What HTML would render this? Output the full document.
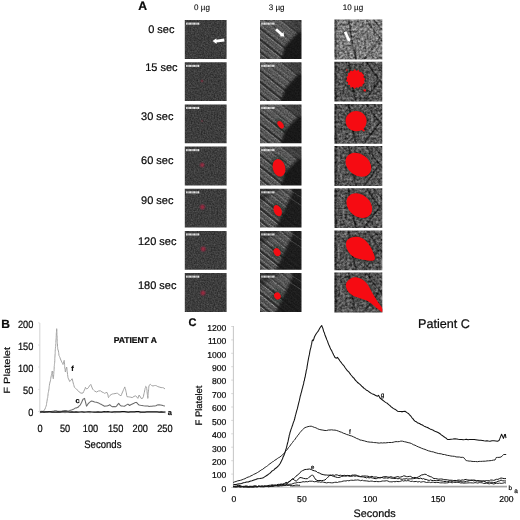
<!DOCTYPE html>
<html><head><meta charset="utf-8"><title>Figure</title>
<style>
html,body{margin:0;padding:0;background:#fff;}
body{width:520px;height:520px;overflow:hidden;font-family:"Liberation Sans",sans-serif;}
svg{display:block;position:absolute;left:0;top:0;}
text{font-family:"Liberation Sans",sans-serif;fill:#0a0a0a;text-rendering:geometricPrecision;stroke:#0a0a0a;stroke-width:0.22px;}
.b{font-weight:bold;}
</style></head><body>
<svg width="520" height="520" viewBox="0 0 520 520">
<defs>
<filter id="g1" x="0" y="0" width="1" height="1" color-interpolation-filters="sRGB">
  <feTurbulence type="fractalNoise" baseFrequency="0.7" numOctaves="2" seed="3"/>
  <feColorMatrix type="matrix" values="1 0 0 0 0  1 0 0 0 0  1 0 0 0 0  0 0 0 0 1" result="n"/>
  <feComposite in="SourceGraphic" in2="n" operator="arithmetic" k1="0" k2="1" k3="0.26" k4="-0.13"/>
  <feGaussianBlur stdDeviation="0.35"/>
</filter>
<filter id="g2" x="0" y="0" width="1" height="1" color-interpolation-filters="sRGB">
  <feTurbulence type="fractalNoise" baseFrequency="0.7" numOctaves="2" seed="7"/>
  <feColorMatrix type="matrix" values="1 0 0 0 0  1 0 0 0 0  1 0 0 0 0  0 0 0 0 1" result="n"/>
  <feComposite in="SourceGraphic" in2="n" operator="arithmetic" k1="0.9" k2="0.55" k3="0.0" k4="0"/>
  <feGaussianBlur stdDeviation="0.35"/>
</filter>
<filter id="g3" x="0" y="0" width="1" height="1" color-interpolation-filters="sRGB">
  <feTurbulence type="fractalNoise" baseFrequency="0.42" numOctaves="2" seed="11"/>
  <feColorMatrix type="matrix" values="1 0 0 0 0  1 0 0 0 0  1 0 0 0 0  0 0 0 0 1" result="n"/>
  <feComposite in="SourceGraphic" in2="n" operator="arithmetic" k1="1.0" k2="0.5" k3="0.32" k4="-0.16"/>
  <feGaussianBlur stdDeviation="0.55"/>
</filter>
<radialGradient id="rg"><stop offset="0" stop-color="#d02040" stop-opacity="1"/><stop offset="0.45" stop-color="#b02040" stop-opacity="0.7"/><stop offset="1" stop-color="#802040" stop-opacity="0"/></radialGradient>
<filter id="bl"><feGaussianBlur stdDeviation="0.5"/></filter>
<filter id="bl2"><feGaussianBlur stdDeviation="1.6"/></filter>
<filter id="bl6"><feGaussianBlur stdDeviation="0.7"/></filter>
<filter id="bl3"><feGaussianBlur stdDeviation="0.3"/></filter>
<filter id="bl4"><feGaussianBlur stdDeviation="0.9"/></filter>
<filter id="bl5"><feGaussianBlur stdDeviation="0.8"/></filter>

<clipPath id="c00"><rect x="184.8" y="20.1" width="41.8" height="38.8"/></clipPath>
<clipPath id="c01"><rect x="184.8" y="62.3" width="41.8" height="38.8"/></clipPath>
<clipPath id="c02"><rect x="184.8" y="104.4" width="41.8" height="38.8"/></clipPath>
<clipPath id="c03"><rect x="184.8" y="146.6" width="41.8" height="38.8"/></clipPath>
<clipPath id="c04"><rect x="184.8" y="188.8" width="41.8" height="38.8"/></clipPath>
<clipPath id="c05"><rect x="184.8" y="230.9" width="41.8" height="38.8"/></clipPath>
<clipPath id="c06"><rect x="184.8" y="273.1" width="41.8" height="38.8"/></clipPath>
<clipPath id="c10"><rect x="260.0" y="20.1" width="41.5" height="38.8"/></clipPath>
<clipPath id="c11"><rect x="260.0" y="62.3" width="41.5" height="38.8"/></clipPath>
<clipPath id="c12"><rect x="260.0" y="104.4" width="41.5" height="38.8"/></clipPath>
<clipPath id="c13"><rect x="260.0" y="146.6" width="41.5" height="38.8"/></clipPath>
<clipPath id="c14"><rect x="260.0" y="188.8" width="41.5" height="38.8"/></clipPath>
<clipPath id="c15"><rect x="260.0" y="230.9" width="41.5" height="38.8"/></clipPath>
<clipPath id="c16"><rect x="260.0" y="273.1" width="41.5" height="38.8"/></clipPath>
<clipPath id="c20"><rect x="334.29999999999995" y="19.6" width="48.0" height="39.8"/></clipPath>
<clipPath id="c21"><rect x="334.29999999999995" y="61.8" width="48.0" height="39.8"/></clipPath>
<clipPath id="c22"><rect x="334.29999999999995" y="103.9" width="48.0" height="39.8"/></clipPath>
<clipPath id="c23"><rect x="334.29999999999995" y="146.1" width="48.0" height="39.8"/></clipPath>
<clipPath id="c24"><rect x="334.29999999999995" y="188.3" width="48.0" height="39.8"/></clipPath>
<clipPath id="c25"><rect x="334.29999999999995" y="230.4" width="48.0" height="39.8"/></clipPath>
<clipPath id="c26"><rect x="334.29999999999995" y="272.6" width="48.0" height="39.8"/></clipPath>
</defs>
<rect width="520" height="520" fill="#fff"/>
<g opacity="0.999">
<text class="b" x="142.7" y="9.7" font-size="12.2" text-anchor="middle">A</text>
<text x="202" y="9.9" font-size="8.05" text-anchor="middle" style="stroke-width:0.1px">0 µg</text>
<text x="276.6" y="9.9" font-size="8.05" text-anchor="middle" style="stroke-width:0.1px">3 µg</text>
<text x="353" y="9.9" font-size="8.05" text-anchor="middle" style="stroke-width:0.1px">10 µg</text>
<text x="161.3" y="33.3" font-size="11" text-anchor="middle">0 sec</text>
<text x="161.4" y="71.3" font-size="11" text-anchor="middle">15 sec</text>
<text x="157.3" y="120.0" font-size="11" text-anchor="middle">30 sec</text>
<text x="157.3" y="163.6" font-size="11" text-anchor="middle">60 sec</text>
<text x="157.3" y="203.8" font-size="11" text-anchor="middle">90 sec</text>
<text x="157.2" y="245.3" font-size="11" text-anchor="middle">120 sec</text>
<text x="157.2" y="288.7" font-size="11" text-anchor="middle">180 sec</text>
<g clip-path="url(#c00)"><g filter="url(#g1)">
<rect x="183.8" y="19.1" width="43.8" height="40.8" fill="#3d3d3d"/>
</g>
<g fill="#f4f4f4" opacity="0.92"><rect x="186.10" y="22.60" width="1.40" height="2.1"/><rect x="187.72" y="22.60" width="0.60" height="2.1"/><rect x="188.54" y="22.60" width="1.30" height="2.1"/><rect x="190.06" y="22.60" width="1.30" height="2.1"/><rect x="191.58" y="22.60" width="0.60" height="2.1"/><rect x="192.40" y="22.60" width="1.40" height="2.1"/><rect x="194.02" y="22.60" width="1.30" height="2.1"/><rect x="195.54" y="22.60" width="0.60" height="2.1"/><rect x="196.36" y="22.60" width="1.30" height="2.1"/><rect x="197.88" y="22.60" width="1.40" height="2.1"/></g>
</g>
<g clip-path="url(#c01)"><g filter="url(#g1)">
<rect x="183.8" y="61.3" width="43.8" height="40.8" fill="#3d3d3d"/>
</g>
<circle cx="202" cy="81" r="2.1" fill="url(#rg)" opacity="0.45"/>
<g fill="#f4f4f4" opacity="0.92"><rect x="186.10" y="64.80" width="1.40" height="2.1"/><rect x="187.72" y="64.80" width="0.60" height="2.1"/><rect x="188.54" y="64.80" width="1.30" height="2.1"/><rect x="190.06" y="64.80" width="1.30" height="2.1"/><rect x="191.58" y="64.80" width="0.60" height="2.1"/><rect x="192.40" y="64.80" width="1.40" height="2.1"/><rect x="194.02" y="64.80" width="1.30" height="2.1"/><rect x="195.54" y="64.80" width="0.60" height="2.1"/><rect x="196.36" y="64.80" width="1.30" height="2.1"/><rect x="197.88" y="64.80" width="1.40" height="2.1"/></g>
</g>
<g clip-path="url(#c02)"><g filter="url(#g1)">
<rect x="183.8" y="103.4" width="43.8" height="40.8" fill="#3d3d3d"/>
</g>
<circle cx="202" cy="121" r="1.9" fill="url(#rg)" opacity="0.25"/>
<g fill="#f4f4f4" opacity="0.92"><rect x="186.10" y="106.90" width="1.40" height="2.1"/><rect x="187.72" y="106.90" width="0.60" height="2.1"/><rect x="188.54" y="106.90" width="1.30" height="2.1"/><rect x="190.06" y="106.90" width="1.30" height="2.1"/><rect x="191.58" y="106.90" width="0.60" height="2.1"/><rect x="192.40" y="106.90" width="1.40" height="2.1"/><rect x="194.02" y="106.90" width="1.30" height="2.1"/><rect x="195.54" y="106.90" width="0.60" height="2.1"/><rect x="196.36" y="106.90" width="1.30" height="2.1"/><rect x="197.88" y="106.90" width="1.40" height="2.1"/></g>
</g>
<g clip-path="url(#c03)"><g filter="url(#g1)">
<rect x="183.8" y="145.6" width="43.8" height="40.8" fill="#3d3d3d"/>
</g>
<circle cx="202.2" cy="165" r="3.5" fill="url(#rg)" opacity="0.7"/>
<g fill="#f4f4f4" opacity="0.92"><rect x="186.10" y="149.10" width="1.40" height="2.1"/><rect x="187.72" y="149.10" width="0.60" height="2.1"/><rect x="188.54" y="149.10" width="1.30" height="2.1"/><rect x="190.06" y="149.10" width="1.30" height="2.1"/><rect x="191.58" y="149.10" width="0.60" height="2.1"/><rect x="192.40" y="149.10" width="1.40" height="2.1"/><rect x="194.02" y="149.10" width="1.30" height="2.1"/><rect x="195.54" y="149.10" width="0.60" height="2.1"/><rect x="196.36" y="149.10" width="1.30" height="2.1"/><rect x="197.88" y="149.10" width="1.40" height="2.1"/></g>
</g>
<g clip-path="url(#c04)"><g filter="url(#g1)">
<rect x="183.8" y="187.8" width="43.8" height="40.8" fill="#3d3d3d"/>
</g>
<circle cx="202.4" cy="207" r="3.8" fill="url(#rg)" opacity="0.75"/>
<g fill="#f4f4f4" opacity="0.92"><rect x="186.10" y="191.30" width="1.40" height="2.1"/><rect x="187.72" y="191.30" width="0.60" height="2.1"/><rect x="188.54" y="191.30" width="1.30" height="2.1"/><rect x="190.06" y="191.30" width="1.30" height="2.1"/><rect x="191.58" y="191.30" width="0.60" height="2.1"/><rect x="192.40" y="191.30" width="1.40" height="2.1"/><rect x="194.02" y="191.30" width="1.30" height="2.1"/><rect x="195.54" y="191.30" width="0.60" height="2.1"/><rect x="196.36" y="191.30" width="1.30" height="2.1"/><rect x="197.88" y="191.30" width="1.40" height="2.1"/></g>
</g>
<g clip-path="url(#c05)"><g filter="url(#g1)">
<rect x="183.8" y="229.9" width="43.8" height="40.8" fill="#3d3d3d"/>
</g>
<circle cx="203.2" cy="249" r="3.8" fill="url(#rg)" opacity="0.75"/>
<g fill="#f4f4f4" opacity="0.92"><rect x="186.10" y="233.40" width="1.40" height="2.1"/><rect x="187.72" y="233.40" width="0.60" height="2.1"/><rect x="188.54" y="233.40" width="1.30" height="2.1"/><rect x="190.06" y="233.40" width="1.30" height="2.1"/><rect x="191.58" y="233.40" width="0.60" height="2.1"/><rect x="192.40" y="233.40" width="1.40" height="2.1"/><rect x="194.02" y="233.40" width="1.30" height="2.1"/><rect x="195.54" y="233.40" width="0.60" height="2.1"/><rect x="196.36" y="233.40" width="1.30" height="2.1"/><rect x="197.88" y="233.40" width="1.40" height="2.1"/></g>
</g>
<g clip-path="url(#c06)"><g filter="url(#g1)">
<rect x="183.8" y="272.1" width="43.8" height="40.8" fill="#3d3d3d"/>
</g>
<circle cx="203" cy="293" r="3.8" fill="url(#rg)" opacity="0.75"/>
<g fill="#f4f4f4" opacity="0.92"><rect x="186.10" y="275.60" width="1.40" height="2.1"/><rect x="187.72" y="275.60" width="0.60" height="2.1"/><rect x="188.54" y="275.60" width="1.30" height="2.1"/><rect x="190.06" y="275.60" width="1.30" height="2.1"/><rect x="191.58" y="275.60" width="0.60" height="2.1"/><rect x="192.40" y="275.60" width="1.40" height="2.1"/><rect x="194.02" y="275.60" width="1.30" height="2.1"/><rect x="195.54" y="275.60" width="0.60" height="2.1"/><rect x="196.36" y="275.60" width="1.30" height="2.1"/><rect x="197.88" y="275.60" width="1.40" height="2.1"/></g>
</g>
<polygon points="212.6,41 216.4,38.2 216.4,39.7 224.2,38.6 224.5,41.4 216.5,42.5 216.6,44" fill="#fff"/>
<g clip-path="url(#c10)"><g filter="url(#g2)">
<rect x="259.0" y="19.1" width="43.5" height="40.8" fill="#585858"/>
<line x1="257.0" y1="-13.9" x2="309.0" y2="27.7" stroke="#151515" stroke-width="1.19" opacity="0.39" filter="url(#bl)"/>
<line x1="257.0" y1="-11.7" x2="309.0" y2="29.9" stroke="#c0c0c0" stroke-width="0.8" opacity="0.23" filter="url(#bl)"/>
<line x1="257.0" y1="-6.9" x2="309.0" y2="34.7" stroke="#151515" stroke-width="0.77" opacity="0.23" filter="url(#bl)"/>
<line x1="257.0" y1="-4.7" x2="309.0" y2="36.9" stroke="#c0c0c0" stroke-width="0.8" opacity="0.18" filter="url(#bl)"/>
<line x1="257.0" y1="0.1" x2="309.0" y2="41.7" stroke="#151515" stroke-width="1.36" opacity="0.43" filter="url(#bl)"/>
<line x1="257.0" y1="2.3" x2="309.0" y2="43.9" stroke="#c0c0c0" stroke-width="0.8" opacity="0.27" filter="url(#bl)"/>
<line x1="257.0" y1="7.1" x2="309.0" y2="48.7" stroke="#151515" stroke-width="0.77" opacity="0.23" filter="url(#bl)"/>
<line x1="257.0" y1="9.3" x2="309.0" y2="50.9" stroke="#c0c0c0" stroke-width="0.8" opacity="0.18" filter="url(#bl)"/>
<line x1="257.0" y1="13.1" x2="309.0" y2="54.7" stroke="#151515" stroke-width="1.10" opacity="0.39" filter="url(#bl)"/>
<line x1="257.0" y1="15.3" x2="309.0" y2="56.9" stroke="#c0c0c0" stroke-width="0.8" opacity="0.27" filter="url(#bl)"/>
<line x1="257.0" y1="20.1" x2="309.0" y2="61.7" stroke="#151515" stroke-width="0.85" opacity="0.27" filter="url(#bl)"/>
<line x1="257.0" y1="22.3" x2="309.0" y2="63.9" stroke="#c0c0c0" stroke-width="0.8" opacity="0.27" filter="url(#bl)"/>
<line x1="257.0" y1="25.6" x2="309.0" y2="67.2" stroke="#151515" stroke-width="1.70" opacity="0.62" filter="url(#bl)"/>
<line x1="257.0" y1="27.8" x2="309.0" y2="69.4" stroke="#c0c0c0" stroke-width="0.8" opacity="0.41" filter="url(#bl)"/>
<line x1="257.0" y1="32.1" x2="309.0" y2="73.7" stroke="#151515" stroke-width="0.77" opacity="0.27" filter="url(#bl)"/>
<line x1="257.0" y1="34.3" x2="309.0" y2="75.9" stroke="#c0c0c0" stroke-width="0.8" opacity="0.23" filter="url(#bl)"/>
<line x1="257.0" y1="37.1" x2="309.0" y2="78.7" stroke="#151515" stroke-width="1.87" opacity="0.66" filter="url(#bl)"/>
<line x1="257.0" y1="39.3" x2="309.0" y2="80.9" stroke="#c0c0c0" stroke-width="0.8" opacity="0.45" filter="url(#bl)"/>
<line x1="257.0" y1="43.6" x2="309.0" y2="85.2" stroke="#151515" stroke-width="0.85" opacity="0.31" filter="url(#bl)"/>
<line x1="257.0" y1="45.8" x2="309.0" y2="87.4" stroke="#c0c0c0" stroke-width="0.8" opacity="0.27" filter="url(#bl)"/>
<line x1="257.0" y1="49.1" x2="309.0" y2="90.7" stroke="#151515" stroke-width="1.70" opacity="0.62" filter="url(#bl)"/>
<line x1="257.0" y1="51.3" x2="309.0" y2="92.9" stroke="#c0c0c0" stroke-width="0.8" opacity="0.41" filter="url(#bl)"/>
<line x1="257.0" y1="56.1" x2="309.0" y2="97.7" stroke="#151515" stroke-width="1.02" opacity="0.39" filter="url(#bl)"/>
<line x1="257.0" y1="58.3" x2="309.0" y2="99.9" stroke="#c0c0c0" stroke-width="0.8" opacity="0.27" filter="url(#bl)"/>
<polygon points="282.8,18.1 304.5,18.1 304.5,31.7 297.4,32.9" fill="#111" opacity="0.35" filter="url(#bl2)"/>
<polygon points="304.5,30.2 297.4,32.9 285.3,45.7 279.5,61.9 305.5,62.9" fill="#171717" opacity="0.95" filter="url(#bl5)"/>
</g>
<g fill="#f0f0f0" opacity="0.9"><rect x="261.30" y="22.60" width="1.40" height="2.1"/><rect x="262.92" y="22.60" width="0.60" height="2.1"/><rect x="263.74" y="22.60" width="1.30" height="2.1"/><rect x="265.26" y="22.60" width="1.30" height="2.1"/><rect x="266.78" y="22.60" width="0.60" height="2.1"/><rect x="267.60" y="22.60" width="1.40" height="2.1"/><rect x="269.22" y="22.60" width="1.30" height="2.1"/><rect x="270.74" y="22.60" width="0.60" height="2.1"/><rect x="271.56" y="22.60" width="1.30" height="2.1"/><rect x="273.08" y="22.60" width="1.40" height="2.1"/></g>
</g>
<g clip-path="url(#c11)"><g filter="url(#g2)">
<rect x="259.0" y="61.3" width="43.5" height="40.8" fill="#585858"/>
<line x1="257.0" y1="28.3" x2="309.0" y2="69.9" stroke="#151515" stroke-width="1.19" opacity="0.39" filter="url(#bl)"/>
<line x1="257.0" y1="30.5" x2="309.0" y2="72.1" stroke="#c0c0c0" stroke-width="0.8" opacity="0.23" filter="url(#bl)"/>
<line x1="257.0" y1="35.3" x2="309.0" y2="76.9" stroke="#151515" stroke-width="0.77" opacity="0.23" filter="url(#bl)"/>
<line x1="257.0" y1="37.5" x2="309.0" y2="79.1" stroke="#c0c0c0" stroke-width="0.8" opacity="0.18" filter="url(#bl)"/>
<line x1="257.0" y1="42.3" x2="309.0" y2="83.9" stroke="#151515" stroke-width="1.36" opacity="0.43" filter="url(#bl)"/>
<line x1="257.0" y1="44.5" x2="309.0" y2="86.1" stroke="#c0c0c0" stroke-width="0.8" opacity="0.27" filter="url(#bl)"/>
<line x1="257.0" y1="49.3" x2="309.0" y2="90.9" stroke="#151515" stroke-width="0.77" opacity="0.23" filter="url(#bl)"/>
<line x1="257.0" y1="51.5" x2="309.0" y2="93.1" stroke="#c0c0c0" stroke-width="0.8" opacity="0.18" filter="url(#bl)"/>
<line x1="257.0" y1="55.3" x2="309.0" y2="96.9" stroke="#151515" stroke-width="1.10" opacity="0.39" filter="url(#bl)"/>
<line x1="257.0" y1="57.5" x2="309.0" y2="99.1" stroke="#c0c0c0" stroke-width="0.8" opacity="0.27" filter="url(#bl)"/>
<line x1="257.0" y1="62.3" x2="309.0" y2="103.9" stroke="#151515" stroke-width="0.85" opacity="0.27" filter="url(#bl)"/>
<line x1="257.0" y1="64.5" x2="309.0" y2="106.1" stroke="#c0c0c0" stroke-width="0.8" opacity="0.27" filter="url(#bl)"/>
<line x1="257.0" y1="67.8" x2="309.0" y2="109.4" stroke="#151515" stroke-width="1.70" opacity="0.62" filter="url(#bl)"/>
<line x1="257.0" y1="70.0" x2="309.0" y2="111.6" stroke="#c0c0c0" stroke-width="0.8" opacity="0.41" filter="url(#bl)"/>
<line x1="257.0" y1="74.3" x2="309.0" y2="115.9" stroke="#151515" stroke-width="0.77" opacity="0.27" filter="url(#bl)"/>
<line x1="257.0" y1="76.5" x2="309.0" y2="118.1" stroke="#c0c0c0" stroke-width="0.8" opacity="0.23" filter="url(#bl)"/>
<line x1="257.0" y1="79.3" x2="309.0" y2="120.9" stroke="#151515" stroke-width="1.87" opacity="0.66" filter="url(#bl)"/>
<line x1="257.0" y1="81.5" x2="309.0" y2="123.1" stroke="#c0c0c0" stroke-width="0.8" opacity="0.45" filter="url(#bl)"/>
<line x1="257.0" y1="85.8" x2="309.0" y2="127.4" stroke="#151515" stroke-width="0.85" opacity="0.31" filter="url(#bl)"/>
<line x1="257.0" y1="88.0" x2="309.0" y2="129.6" stroke="#c0c0c0" stroke-width="0.8" opacity="0.27" filter="url(#bl)"/>
<line x1="257.0" y1="91.3" x2="309.0" y2="132.9" stroke="#151515" stroke-width="1.70" opacity="0.62" filter="url(#bl)"/>
<line x1="257.0" y1="93.5" x2="309.0" y2="135.1" stroke="#c0c0c0" stroke-width="0.8" opacity="0.41" filter="url(#bl)"/>
<line x1="257.0" y1="98.3" x2="309.0" y2="139.9" stroke="#151515" stroke-width="1.02" opacity="0.39" filter="url(#bl)"/>
<line x1="257.0" y1="100.5" x2="309.0" y2="142.1" stroke="#c0c0c0" stroke-width="0.8" opacity="0.27" filter="url(#bl)"/>
<polygon points="282.8,60.3 304.5,60.3 304.5,73.9 297.4,75.1" fill="#111" opacity="0.35" filter="url(#bl2)"/>
<polygon points="304.5,72.4 297.4,75.1 285.3,87.9 279.5,104.1 305.5,105.1" fill="#171717" opacity="0.95" filter="url(#bl5)"/>
</g>
<g fill="#f0f0f0" opacity="0.9"><rect x="261.30" y="64.80" width="1.40" height="2.1"/><rect x="262.92" y="64.80" width="0.60" height="2.1"/><rect x="263.74" y="64.80" width="1.30" height="2.1"/><rect x="265.26" y="64.80" width="1.30" height="2.1"/><rect x="266.78" y="64.80" width="0.60" height="2.1"/><rect x="267.60" y="64.80" width="1.40" height="2.1"/><rect x="269.22" y="64.80" width="1.30" height="2.1"/><rect x="270.74" y="64.80" width="0.60" height="2.1"/><rect x="271.56" y="64.80" width="1.30" height="2.1"/><rect x="273.08" y="64.80" width="1.40" height="2.1"/></g>
</g>
<g clip-path="url(#c12)"><g filter="url(#g2)">
<rect x="259.0" y="103.4" width="43.5" height="40.8" fill="#585858"/>
<line x1="257.0" y1="70.4" x2="309.0" y2="112.0" stroke="#151515" stroke-width="1.19" opacity="0.39" filter="url(#bl)"/>
<line x1="257.0" y1="72.6" x2="309.0" y2="114.2" stroke="#c0c0c0" stroke-width="0.8" opacity="0.23" filter="url(#bl)"/>
<line x1="257.0" y1="77.4" x2="309.0" y2="119.0" stroke="#151515" stroke-width="0.77" opacity="0.23" filter="url(#bl)"/>
<line x1="257.0" y1="79.6" x2="309.0" y2="121.2" stroke="#c0c0c0" stroke-width="0.8" opacity="0.18" filter="url(#bl)"/>
<line x1="257.0" y1="84.4" x2="309.0" y2="126.0" stroke="#151515" stroke-width="1.36" opacity="0.43" filter="url(#bl)"/>
<line x1="257.0" y1="86.6" x2="309.0" y2="128.2" stroke="#c0c0c0" stroke-width="0.8" opacity="0.27" filter="url(#bl)"/>
<line x1="257.0" y1="91.4" x2="309.0" y2="133.0" stroke="#151515" stroke-width="0.77" opacity="0.23" filter="url(#bl)"/>
<line x1="257.0" y1="93.6" x2="309.0" y2="135.2" stroke="#c0c0c0" stroke-width="0.8" opacity="0.18" filter="url(#bl)"/>
<line x1="257.0" y1="97.4" x2="309.0" y2="139.0" stroke="#151515" stroke-width="1.10" opacity="0.39" filter="url(#bl)"/>
<line x1="257.0" y1="99.6" x2="309.0" y2="141.2" stroke="#c0c0c0" stroke-width="0.8" opacity="0.27" filter="url(#bl)"/>
<line x1="257.0" y1="104.4" x2="309.0" y2="146.0" stroke="#151515" stroke-width="0.85" opacity="0.27" filter="url(#bl)"/>
<line x1="257.0" y1="106.6" x2="309.0" y2="148.2" stroke="#c0c0c0" stroke-width="0.8" opacity="0.27" filter="url(#bl)"/>
<line x1="257.0" y1="109.9" x2="309.0" y2="151.5" stroke="#151515" stroke-width="1.70" opacity="0.62" filter="url(#bl)"/>
<line x1="257.0" y1="112.1" x2="309.0" y2="153.7" stroke="#c0c0c0" stroke-width="0.8" opacity="0.41" filter="url(#bl)"/>
<line x1="257.0" y1="116.4" x2="309.0" y2="158.0" stroke="#151515" stroke-width="0.77" opacity="0.27" filter="url(#bl)"/>
<line x1="257.0" y1="118.6" x2="309.0" y2="160.2" stroke="#c0c0c0" stroke-width="0.8" opacity="0.23" filter="url(#bl)"/>
<line x1="257.0" y1="121.4" x2="309.0" y2="163.0" stroke="#151515" stroke-width="1.87" opacity="0.66" filter="url(#bl)"/>
<line x1="257.0" y1="123.6" x2="309.0" y2="165.2" stroke="#c0c0c0" stroke-width="0.8" opacity="0.45" filter="url(#bl)"/>
<line x1="257.0" y1="127.9" x2="309.0" y2="169.5" stroke="#151515" stroke-width="0.85" opacity="0.31" filter="url(#bl)"/>
<line x1="257.0" y1="130.1" x2="309.0" y2="171.7" stroke="#c0c0c0" stroke-width="0.8" opacity="0.27" filter="url(#bl)"/>
<line x1="257.0" y1="133.4" x2="309.0" y2="175.0" stroke="#151515" stroke-width="1.70" opacity="0.62" filter="url(#bl)"/>
<line x1="257.0" y1="135.6" x2="309.0" y2="177.2" stroke="#c0c0c0" stroke-width="0.8" opacity="0.41" filter="url(#bl)"/>
<line x1="257.0" y1="140.4" x2="309.0" y2="182.0" stroke="#151515" stroke-width="1.02" opacity="0.39" filter="url(#bl)"/>
<line x1="257.0" y1="142.6" x2="309.0" y2="184.2" stroke="#c0c0c0" stroke-width="0.8" opacity="0.27" filter="url(#bl)"/>
<polygon points="282.8,102.4 304.5,102.4 304.5,116.0 297.4,117.2" fill="#111" opacity="0.35" filter="url(#bl2)"/>
<polygon points="304.5,114.5 297.4,117.2 285.3,130.0 279.5,146.2 305.5,147.2" fill="#171717" opacity="0.95" filter="url(#bl5)"/>
</g>
<g fill="#f0f0f0" opacity="0.9"><rect x="261.30" y="106.90" width="1.40" height="2.1"/><rect x="262.92" y="106.90" width="0.60" height="2.1"/><rect x="263.74" y="106.90" width="1.30" height="2.1"/><rect x="265.26" y="106.90" width="1.30" height="2.1"/><rect x="266.78" y="106.90" width="0.60" height="2.1"/><rect x="267.60" y="106.90" width="1.40" height="2.1"/><rect x="269.22" y="106.90" width="1.30" height="2.1"/><rect x="270.74" y="106.90" width="0.60" height="2.1"/><rect x="271.56" y="106.90" width="1.30" height="2.1"/><rect x="273.08" y="106.90" width="1.40" height="2.1"/></g>
<ellipse cx="280.6" cy="124.8" rx="5.1" ry="6.800000000000001" transform="rotate(-35 280.6 124.8)" fill="#102018" opacity="0.4" filter="url(#bl2)"/>
<ellipse cx="280.6" cy="124.8" rx="2.5" ry="4.2" transform="rotate(-35 280.6 124.8)" fill="#f40d14"/>
</g>
<g clip-path="url(#c13)"><g filter="url(#g2)">
<rect x="259.0" y="145.6" width="43.5" height="40.8" fill="#585858"/>
<line x1="257.0" y1="112.6" x2="309.0" y2="154.2" stroke="#151515" stroke-width="1.19" opacity="0.39" filter="url(#bl)"/>
<line x1="257.0" y1="114.8" x2="309.0" y2="156.4" stroke="#c0c0c0" stroke-width="0.8" opacity="0.23" filter="url(#bl)"/>
<line x1="257.0" y1="119.6" x2="309.0" y2="161.2" stroke="#151515" stroke-width="0.77" opacity="0.23" filter="url(#bl)"/>
<line x1="257.0" y1="121.8" x2="309.0" y2="163.4" stroke="#c0c0c0" stroke-width="0.8" opacity="0.18" filter="url(#bl)"/>
<line x1="257.0" y1="126.6" x2="309.0" y2="168.2" stroke="#151515" stroke-width="1.36" opacity="0.43" filter="url(#bl)"/>
<line x1="257.0" y1="128.8" x2="309.0" y2="170.4" stroke="#c0c0c0" stroke-width="0.8" opacity="0.27" filter="url(#bl)"/>
<line x1="257.0" y1="133.6" x2="309.0" y2="175.2" stroke="#151515" stroke-width="0.77" opacity="0.23" filter="url(#bl)"/>
<line x1="257.0" y1="135.8" x2="309.0" y2="177.4" stroke="#c0c0c0" stroke-width="0.8" opacity="0.18" filter="url(#bl)"/>
<line x1="257.0" y1="139.6" x2="309.0" y2="181.2" stroke="#151515" stroke-width="1.10" opacity="0.39" filter="url(#bl)"/>
<line x1="257.0" y1="141.8" x2="309.0" y2="183.4" stroke="#c0c0c0" stroke-width="0.8" opacity="0.27" filter="url(#bl)"/>
<line x1="257.0" y1="146.6" x2="309.0" y2="188.2" stroke="#151515" stroke-width="0.85" opacity="0.27" filter="url(#bl)"/>
<line x1="257.0" y1="148.8" x2="309.0" y2="190.4" stroke="#c0c0c0" stroke-width="0.8" opacity="0.27" filter="url(#bl)"/>
<line x1="257.0" y1="152.1" x2="309.0" y2="193.7" stroke="#151515" stroke-width="1.70" opacity="0.62" filter="url(#bl)"/>
<line x1="257.0" y1="154.3" x2="309.0" y2="195.9" stroke="#c0c0c0" stroke-width="0.8" opacity="0.41" filter="url(#bl)"/>
<line x1="257.0" y1="158.6" x2="309.0" y2="200.2" stroke="#151515" stroke-width="0.77" opacity="0.27" filter="url(#bl)"/>
<line x1="257.0" y1="160.8" x2="309.0" y2="202.4" stroke="#c0c0c0" stroke-width="0.8" opacity="0.23" filter="url(#bl)"/>
<line x1="257.0" y1="163.6" x2="309.0" y2="205.2" stroke="#151515" stroke-width="1.87" opacity="0.66" filter="url(#bl)"/>
<line x1="257.0" y1="165.8" x2="309.0" y2="207.4" stroke="#c0c0c0" stroke-width="0.8" opacity="0.45" filter="url(#bl)"/>
<line x1="257.0" y1="170.1" x2="309.0" y2="211.7" stroke="#151515" stroke-width="0.85" opacity="0.31" filter="url(#bl)"/>
<line x1="257.0" y1="172.3" x2="309.0" y2="213.9" stroke="#c0c0c0" stroke-width="0.8" opacity="0.27" filter="url(#bl)"/>
<line x1="257.0" y1="175.6" x2="309.0" y2="217.2" stroke="#151515" stroke-width="1.70" opacity="0.62" filter="url(#bl)"/>
<line x1="257.0" y1="177.8" x2="309.0" y2="219.4" stroke="#c0c0c0" stroke-width="0.8" opacity="0.41" filter="url(#bl)"/>
<line x1="257.0" y1="182.6" x2="309.0" y2="224.2" stroke="#151515" stroke-width="1.02" opacity="0.39" filter="url(#bl)"/>
<line x1="257.0" y1="184.8" x2="309.0" y2="226.4" stroke="#c0c0c0" stroke-width="0.8" opacity="0.27" filter="url(#bl)"/>
<polygon points="282.8,144.6 304.5,144.6 304.5,158.2 297.4,159.4" fill="#111" opacity="0.35" filter="url(#bl2)"/>
<polygon points="304.5,156.7 297.4,159.4 285.3,172.2 279.5,188.4 305.5,189.4" fill="#171717" opacity="0.95" filter="url(#bl5)"/>
</g>
<g fill="#f0f0f0" opacity="0.9"><rect x="261.30" y="149.10" width="1.40" height="2.1"/><rect x="262.92" y="149.10" width="0.60" height="2.1"/><rect x="263.74" y="149.10" width="1.30" height="2.1"/><rect x="265.26" y="149.10" width="1.30" height="2.1"/><rect x="266.78" y="149.10" width="0.60" height="2.1"/><rect x="267.60" y="149.10" width="1.40" height="2.1"/><rect x="269.22" y="149.10" width="1.30" height="2.1"/><rect x="270.74" y="149.10" width="0.60" height="2.1"/><rect x="271.56" y="149.10" width="1.30" height="2.1"/><rect x="273.08" y="149.10" width="1.40" height="2.1"/></g>
<ellipse cx="279" cy="167.8" rx="8.8" ry="11.5" transform="rotate(-15 279 167.8)" fill="#102018" opacity="0.4" filter="url(#bl2)"/>
<ellipse cx="279" cy="167.8" rx="6.2" ry="8.9" transform="rotate(-15 279 167.8)" fill="#f40d14"/>
</g>
<g clip-path="url(#c14)"><g filter="url(#g2)">
<rect x="259.0" y="187.8" width="43.5" height="40.8" fill="#565656"/>
<line x1="257.0" y1="154.8" x2="309.0" y2="196.4" stroke="#151515" stroke-width="1.19" opacity="0.39" filter="url(#bl)"/>
<line x1="257.0" y1="157.0" x2="309.0" y2="198.6" stroke="#c0c0c0" stroke-width="0.8" opacity="0.31" filter="url(#bl)"/>
<line x1="257.0" y1="161.8" x2="309.0" y2="203.4" stroke="#151515" stroke-width="0.77" opacity="0.23" filter="url(#bl)"/>
<line x1="257.0" y1="164.0" x2="309.0" y2="205.6" stroke="#c0c0c0" stroke-width="0.8" opacity="0.25" filter="url(#bl)"/>
<line x1="257.0" y1="168.8" x2="309.0" y2="210.4" stroke="#151515" stroke-width="1.36" opacity="0.43" filter="url(#bl)"/>
<line x1="257.0" y1="171.0" x2="309.0" y2="212.6" stroke="#c0c0c0" stroke-width="0.8" opacity="0.38" filter="url(#bl)"/>
<line x1="257.0" y1="175.8" x2="309.0" y2="217.4" stroke="#151515" stroke-width="0.77" opacity="0.23" filter="url(#bl)"/>
<line x1="257.0" y1="178.0" x2="309.0" y2="219.6" stroke="#c0c0c0" stroke-width="0.8" opacity="0.25" filter="url(#bl)"/>
<line x1="257.0" y1="181.8" x2="309.0" y2="223.4" stroke="#151515" stroke-width="1.10" opacity="0.39" filter="url(#bl)"/>
<line x1="257.0" y1="184.0" x2="309.0" y2="225.6" stroke="#c0c0c0" stroke-width="0.8" opacity="0.38" filter="url(#bl)"/>
<line x1="257.0" y1="188.8" x2="309.0" y2="230.4" stroke="#151515" stroke-width="0.85" opacity="0.27" filter="url(#bl)"/>
<line x1="257.0" y1="191.0" x2="309.0" y2="232.6" stroke="#c0c0c0" stroke-width="0.8" opacity="0.38" filter="url(#bl)"/>
<line x1="257.0" y1="194.3" x2="309.0" y2="235.9" stroke="#151515" stroke-width="1.70" opacity="0.62" filter="url(#bl)"/>
<line x1="257.0" y1="196.5" x2="309.0" y2="238.1" stroke="#c0c0c0" stroke-width="0.8" opacity="0.56" filter="url(#bl)"/>
<line x1="257.0" y1="200.8" x2="309.0" y2="242.4" stroke="#151515" stroke-width="0.77" opacity="0.27" filter="url(#bl)"/>
<line x1="257.0" y1="203.0" x2="309.0" y2="244.6" stroke="#c0c0c0" stroke-width="0.8" opacity="0.31" filter="url(#bl)"/>
<line x1="257.0" y1="205.8" x2="309.0" y2="247.4" stroke="#151515" stroke-width="1.87" opacity="0.66" filter="url(#bl)"/>
<line x1="257.0" y1="208.0" x2="309.0" y2="249.6" stroke="#c0c0c0" stroke-width="0.8" opacity="0.62" filter="url(#bl)"/>
<line x1="257.0" y1="212.3" x2="309.0" y2="253.9" stroke="#151515" stroke-width="0.85" opacity="0.31" filter="url(#bl)"/>
<line x1="257.0" y1="214.5" x2="309.0" y2="256.1" stroke="#c0c0c0" stroke-width="0.8" opacity="0.38" filter="url(#bl)"/>
<line x1="257.0" y1="217.8" x2="309.0" y2="259.4" stroke="#151515" stroke-width="1.70" opacity="0.62" filter="url(#bl)"/>
<line x1="257.0" y1="220.0" x2="309.0" y2="261.6" stroke="#c0c0c0" stroke-width="0.8" opacity="0.56" filter="url(#bl)"/>
<line x1="257.0" y1="224.8" x2="309.0" y2="266.4" stroke="#151515" stroke-width="1.02" opacity="0.39" filter="url(#bl)"/>
<line x1="257.0" y1="227.0" x2="309.0" y2="268.6" stroke="#c0c0c0" stroke-width="0.8" opacity="0.38" filter="url(#bl)"/>
<polygon points="289.9,185.8 292.4,192.7 280.8,217.5 274.1,230.6 305.5,231.6 305.5,185.8" fill="#171717" opacity="0.88" filter="url(#bl5)"/>
<polygon points="258.0,186.8 282.8,186.8 258.0,203.5" fill="#0c0c0c" opacity="0.45" filter="url(#bl2)"/>
<line x1="284.9" y1="178.8" x2="305.5" y2="192.1" stroke="#777" stroke-width="1" opacity="0.35" filter="url(#bl)"/>
<line x1="284.9" y1="186.8" x2="305.5" y2="200.1" stroke="#777" stroke-width="1" opacity="0.35" filter="url(#bl)"/>
<line x1="284.9" y1="194.8" x2="305.5" y2="208.1" stroke="#777" stroke-width="1" opacity="0.35" filter="url(#bl)"/>
</g>
<g fill="#f0f0f0" opacity="0.9"><rect x="261.30" y="191.30" width="1.40" height="2.1"/><rect x="262.92" y="191.30" width="0.60" height="2.1"/><rect x="263.74" y="191.30" width="1.30" height="2.1"/><rect x="265.26" y="191.30" width="1.30" height="2.1"/><rect x="266.78" y="191.30" width="0.60" height="2.1"/><rect x="267.60" y="191.30" width="1.40" height="2.1"/><rect x="269.22" y="191.30" width="1.30" height="2.1"/><rect x="270.74" y="191.30" width="0.60" height="2.1"/><rect x="271.56" y="191.30" width="1.30" height="2.1"/><rect x="273.08" y="191.30" width="1.40" height="2.1"/></g>
<ellipse cx="277.7" cy="210.7" rx="6.4" ry="8.5" transform="rotate(-25 277.7 210.7)" fill="#102018" opacity="0.4" filter="url(#bl2)"/>
<ellipse cx="277.7" cy="210.7" rx="3.8" ry="5.9" transform="rotate(-25 277.7 210.7)" fill="#f40d14"/>
</g>
<g clip-path="url(#c15)"><g filter="url(#g2)">
<rect x="259.0" y="229.9" width="43.5" height="40.8" fill="#565656"/>
<line x1="257.0" y1="196.9" x2="309.0" y2="238.5" stroke="#151515" stroke-width="1.19" opacity="0.39" filter="url(#bl)"/>
<line x1="257.0" y1="199.1" x2="309.0" y2="240.7" stroke="#c0c0c0" stroke-width="0.8" opacity="0.31" filter="url(#bl)"/>
<line x1="257.0" y1="203.9" x2="309.0" y2="245.5" stroke="#151515" stroke-width="0.77" opacity="0.23" filter="url(#bl)"/>
<line x1="257.0" y1="206.1" x2="309.0" y2="247.7" stroke="#c0c0c0" stroke-width="0.8" opacity="0.25" filter="url(#bl)"/>
<line x1="257.0" y1="210.9" x2="309.0" y2="252.5" stroke="#151515" stroke-width="1.36" opacity="0.43" filter="url(#bl)"/>
<line x1="257.0" y1="213.1" x2="309.0" y2="254.7" stroke="#c0c0c0" stroke-width="0.8" opacity="0.38" filter="url(#bl)"/>
<line x1="257.0" y1="217.9" x2="309.0" y2="259.5" stroke="#151515" stroke-width="0.77" opacity="0.23" filter="url(#bl)"/>
<line x1="257.0" y1="220.1" x2="309.0" y2="261.7" stroke="#c0c0c0" stroke-width="0.8" opacity="0.25" filter="url(#bl)"/>
<line x1="257.0" y1="223.9" x2="309.0" y2="265.5" stroke="#151515" stroke-width="1.10" opacity="0.39" filter="url(#bl)"/>
<line x1="257.0" y1="226.1" x2="309.0" y2="267.7" stroke="#c0c0c0" stroke-width="0.8" opacity="0.38" filter="url(#bl)"/>
<line x1="257.0" y1="230.9" x2="309.0" y2="272.5" stroke="#151515" stroke-width="0.85" opacity="0.27" filter="url(#bl)"/>
<line x1="257.0" y1="233.1" x2="309.0" y2="274.7" stroke="#c0c0c0" stroke-width="0.8" opacity="0.38" filter="url(#bl)"/>
<line x1="257.0" y1="236.4" x2="309.0" y2="278.0" stroke="#151515" stroke-width="1.70" opacity="0.62" filter="url(#bl)"/>
<line x1="257.0" y1="238.6" x2="309.0" y2="280.2" stroke="#c0c0c0" stroke-width="0.8" opacity="0.56" filter="url(#bl)"/>
<line x1="257.0" y1="242.9" x2="309.0" y2="284.5" stroke="#151515" stroke-width="0.77" opacity="0.27" filter="url(#bl)"/>
<line x1="257.0" y1="245.1" x2="309.0" y2="286.7" stroke="#c0c0c0" stroke-width="0.8" opacity="0.31" filter="url(#bl)"/>
<line x1="257.0" y1="247.9" x2="309.0" y2="289.5" stroke="#151515" stroke-width="1.87" opacity="0.66" filter="url(#bl)"/>
<line x1="257.0" y1="250.1" x2="309.0" y2="291.7" stroke="#c0c0c0" stroke-width="0.8" opacity="0.62" filter="url(#bl)"/>
<line x1="257.0" y1="254.4" x2="309.0" y2="296.0" stroke="#151515" stroke-width="0.85" opacity="0.31" filter="url(#bl)"/>
<line x1="257.0" y1="256.6" x2="309.0" y2="298.2" stroke="#c0c0c0" stroke-width="0.8" opacity="0.38" filter="url(#bl)"/>
<line x1="257.0" y1="259.9" x2="309.0" y2="301.5" stroke="#151515" stroke-width="1.70" opacity="0.62" filter="url(#bl)"/>
<line x1="257.0" y1="262.1" x2="309.0" y2="303.7" stroke="#c0c0c0" stroke-width="0.8" opacity="0.56" filter="url(#bl)"/>
<line x1="257.0" y1="266.9" x2="309.0" y2="308.5" stroke="#151515" stroke-width="1.02" opacity="0.39" filter="url(#bl)"/>
<line x1="257.0" y1="269.1" x2="309.0" y2="310.7" stroke="#c0c0c0" stroke-width="0.8" opacity="0.38" filter="url(#bl)"/>
<polygon points="289.9,227.9 292.4,234.8 280.8,259.6 274.1,272.7 305.5,273.7 305.5,227.9" fill="#171717" opacity="0.88" filter="url(#bl5)"/>
<polygon points="258.0,228.9 282.8,228.9 258.0,245.6" fill="#0c0c0c" opacity="0.45" filter="url(#bl2)"/>
<line x1="284.9" y1="220.9" x2="305.5" y2="234.2" stroke="#777" stroke-width="1" opacity="0.35" filter="url(#bl)"/>
<line x1="284.9" y1="228.9" x2="305.5" y2="242.2" stroke="#777" stroke-width="1" opacity="0.35" filter="url(#bl)"/>
<line x1="284.9" y1="236.9" x2="305.5" y2="250.2" stroke="#777" stroke-width="1" opacity="0.35" filter="url(#bl)"/>
</g>
<g fill="#f0f0f0" opacity="0.9"><rect x="261.30" y="233.40" width="1.40" height="2.1"/><rect x="262.92" y="233.40" width="0.60" height="2.1"/><rect x="263.74" y="233.40" width="1.30" height="2.1"/><rect x="265.26" y="233.40" width="1.30" height="2.1"/><rect x="266.78" y="233.40" width="0.60" height="2.1"/><rect x="267.60" y="233.40" width="1.40" height="2.1"/><rect x="269.22" y="233.40" width="1.30" height="2.1"/><rect x="270.74" y="233.40" width="0.60" height="2.1"/><rect x="271.56" y="233.40" width="1.30" height="2.1"/><rect x="273.08" y="233.40" width="1.40" height="2.1"/></g>
<ellipse cx="277.1" cy="252.2" rx="5.9" ry="6.800000000000001" transform="rotate(-30 277.1 252.2)" fill="#102018" opacity="0.4" filter="url(#bl2)"/>
<ellipse cx="277.1" cy="252.2" rx="3.3" ry="4.2" transform="rotate(-30 277.1 252.2)" fill="#f40d14"/>
</g>
<g clip-path="url(#c16)"><g filter="url(#g2)">
<rect x="259.0" y="272.1" width="43.5" height="40.8" fill="#565656"/>
<line x1="257.0" y1="239.1" x2="309.0" y2="280.7" stroke="#151515" stroke-width="1.19" opacity="0.39" filter="url(#bl)"/>
<line x1="257.0" y1="241.3" x2="309.0" y2="282.9" stroke="#c0c0c0" stroke-width="0.8" opacity="0.31" filter="url(#bl)"/>
<line x1="257.0" y1="246.1" x2="309.0" y2="287.7" stroke="#151515" stroke-width="0.77" opacity="0.23" filter="url(#bl)"/>
<line x1="257.0" y1="248.3" x2="309.0" y2="289.9" stroke="#c0c0c0" stroke-width="0.8" opacity="0.25" filter="url(#bl)"/>
<line x1="257.0" y1="253.1" x2="309.0" y2="294.7" stroke="#151515" stroke-width="1.36" opacity="0.43" filter="url(#bl)"/>
<line x1="257.0" y1="255.3" x2="309.0" y2="296.9" stroke="#c0c0c0" stroke-width="0.8" opacity="0.38" filter="url(#bl)"/>
<line x1="257.0" y1="260.1" x2="309.0" y2="301.7" stroke="#151515" stroke-width="0.77" opacity="0.23" filter="url(#bl)"/>
<line x1="257.0" y1="262.3" x2="309.0" y2="303.9" stroke="#c0c0c0" stroke-width="0.8" opacity="0.25" filter="url(#bl)"/>
<line x1="257.0" y1="266.1" x2="309.0" y2="307.7" stroke="#151515" stroke-width="1.10" opacity="0.39" filter="url(#bl)"/>
<line x1="257.0" y1="268.3" x2="309.0" y2="309.9" stroke="#c0c0c0" stroke-width="0.8" opacity="0.38" filter="url(#bl)"/>
<line x1="257.0" y1="273.1" x2="309.0" y2="314.7" stroke="#151515" stroke-width="0.85" opacity="0.27" filter="url(#bl)"/>
<line x1="257.0" y1="275.3" x2="309.0" y2="316.9" stroke="#c0c0c0" stroke-width="0.8" opacity="0.38" filter="url(#bl)"/>
<line x1="257.0" y1="278.6" x2="309.0" y2="320.2" stroke="#151515" stroke-width="1.70" opacity="0.62" filter="url(#bl)"/>
<line x1="257.0" y1="280.8" x2="309.0" y2="322.4" stroke="#c0c0c0" stroke-width="0.8" opacity="0.56" filter="url(#bl)"/>
<line x1="257.0" y1="285.1" x2="309.0" y2="326.7" stroke="#151515" stroke-width="0.77" opacity="0.27" filter="url(#bl)"/>
<line x1="257.0" y1="287.3" x2="309.0" y2="328.9" stroke="#c0c0c0" stroke-width="0.8" opacity="0.31" filter="url(#bl)"/>
<line x1="257.0" y1="290.1" x2="309.0" y2="331.7" stroke="#151515" stroke-width="1.87" opacity="0.66" filter="url(#bl)"/>
<line x1="257.0" y1="292.3" x2="309.0" y2="333.9" stroke="#c0c0c0" stroke-width="0.8" opacity="0.62" filter="url(#bl)"/>
<line x1="257.0" y1="296.6" x2="309.0" y2="338.2" stroke="#151515" stroke-width="0.85" opacity="0.31" filter="url(#bl)"/>
<line x1="257.0" y1="298.8" x2="309.0" y2="340.4" stroke="#c0c0c0" stroke-width="0.8" opacity="0.38" filter="url(#bl)"/>
<line x1="257.0" y1="302.1" x2="309.0" y2="343.7" stroke="#151515" stroke-width="1.70" opacity="0.62" filter="url(#bl)"/>
<line x1="257.0" y1="304.3" x2="309.0" y2="345.9" stroke="#c0c0c0" stroke-width="0.8" opacity="0.56" filter="url(#bl)"/>
<line x1="257.0" y1="309.1" x2="309.0" y2="350.7" stroke="#151515" stroke-width="1.02" opacity="0.39" filter="url(#bl)"/>
<line x1="257.0" y1="311.3" x2="309.0" y2="352.9" stroke="#c0c0c0" stroke-width="0.8" opacity="0.38" filter="url(#bl)"/>
<polygon points="289.9,270.1 292.4,277.0 280.8,301.8 274.1,314.9 305.5,315.9 305.5,270.1" fill="#171717" opacity="0.88" filter="url(#bl5)"/>
<polygon points="258.0,271.1 282.8,271.1 258.0,287.8" fill="#0c0c0c" opacity="0.45" filter="url(#bl2)"/>
<line x1="284.9" y1="263.1" x2="305.5" y2="276.4" stroke="#777" stroke-width="1" opacity="0.35" filter="url(#bl)"/>
<line x1="284.9" y1="271.1" x2="305.5" y2="284.4" stroke="#777" stroke-width="1" opacity="0.35" filter="url(#bl)"/>
<line x1="284.9" y1="279.1" x2="305.5" y2="292.4" stroke="#777" stroke-width="1" opacity="0.35" filter="url(#bl)"/>
</g>
<g fill="#f0f0f0" opacity="0.9"><rect x="261.30" y="275.60" width="1.40" height="2.1"/><rect x="262.92" y="275.60" width="0.60" height="2.1"/><rect x="263.74" y="275.60" width="1.30" height="2.1"/><rect x="265.26" y="275.60" width="1.30" height="2.1"/><rect x="266.78" y="275.60" width="0.60" height="2.1"/><rect x="267.60" y="275.60" width="1.40" height="2.1"/><rect x="269.22" y="275.60" width="1.30" height="2.1"/><rect x="270.74" y="275.60" width="0.60" height="2.1"/><rect x="271.56" y="275.60" width="1.30" height="2.1"/><rect x="273.08" y="275.60" width="1.40" height="2.1"/></g>
<ellipse cx="277.4" cy="295.9" rx="5.800000000000001" ry="6.300000000000001" transform="rotate(-30 277.4 295.9)" fill="#102018" opacity="0.4" filter="url(#bl2)"/>
<ellipse cx="277.4" cy="295.9" rx="3.2" ry="3.7" transform="rotate(-30 277.4 295.9)" fill="#f40d14"/>
</g>
<g transform="translate(284.2,36.6) rotate(42)"><polygon points="0,0 -3.6,-2.9 -3.6,-1.4 -11,-1.4 -11,1.4 -3.6,1.4 -3.6,2.9" fill="#fff"/></g>
<g clip-path="url(#c20)"><g filter="url(#g3)">
<rect x="333.4" y="19.1" width="49.8" height="41.8" fill="#7a7a7a"/>
<g filter="url(#bl6)">
<path d="M348.4,18.1 L352.4,44.0 L356.9,62.9" fill="none" stroke="#080808" stroke-width="1.70" opacity="0.42"/>
<path d="M365.4,18.1 L374.4,31.2 L384.4,43.2" fill="none" stroke="#080808" stroke-width="1.60" opacity="0.36"/>
<path d="M372.4,18.1 L378.4,25.7 L384.4,32.0" fill="none" stroke="#080808" stroke-width="1.30" opacity="0.30"/>
<path d="M379.4,38.4 L372.4,48.0 L361.4,62.9" fill="none" stroke="#080808" stroke-width="1.60" opacity="0.36"/>
<path d="M351.4,42.0 L356.4,36.8 L361.4,31.2" fill="none" stroke="#080808" stroke-width="1.20" opacity="0.21"/>
<path d="M335.6,18.1 L335.6,40.0 L335.8,61.9" fill="none" stroke="#080808" stroke-width="2.00" opacity="0.42"/>
</g>
</g></g>
<g clip-path="url(#c21)"><g filter="url(#g3)">
<rect x="333.4" y="61.3" width="49.8" height="41.8" fill="#565656"/>
<g filter="url(#bl6)">
<path d="M348.4,60.3 L352.4,86.2 L356.9,105.1" fill="none" stroke="#080808" stroke-width="1.70" opacity="0.50"/>
<path d="M365.4,60.3 L374.4,73.4 L384.4,85.4" fill="none" stroke="#080808" stroke-width="1.60" opacity="0.43"/>
<path d="M372.4,60.3 L378.4,67.9 L384.4,74.2" fill="none" stroke="#080808" stroke-width="1.30" opacity="0.36"/>
<path d="M379.4,80.6 L372.4,90.2 L361.4,105.1" fill="none" stroke="#080808" stroke-width="1.60" opacity="0.43"/>
<path d="M351.4,84.2 L356.4,79.0 L361.4,73.4" fill="none" stroke="#080808" stroke-width="1.20" opacity="0.25"/>
<path d="M335.6,60.3 L335.6,82.2 L335.8,104.1" fill="none" stroke="#080808" stroke-width="2.00" opacity="0.50"/>
</g>
</g></g>
<g clip-path="url(#c22)"><g filter="url(#g3)">
<rect x="333.4" y="103.4" width="49.8" height="41.8" fill="#565656"/>
<g filter="url(#bl6)">
<path d="M348.4,102.4 L352.4,128.3 L356.9,147.2" fill="none" stroke="#080808" stroke-width="1.70" opacity="0.50"/>
<path d="M365.4,102.4 L374.4,115.5 L384.4,127.5" fill="none" stroke="#080808" stroke-width="1.60" opacity="0.43"/>
<path d="M372.4,102.4 L378.4,110.0 L384.4,116.3" fill="none" stroke="#080808" stroke-width="1.30" opacity="0.36"/>
<path d="M379.4,122.7 L372.4,132.3 L361.4,147.2" fill="none" stroke="#080808" stroke-width="1.60" opacity="0.43"/>
<path d="M351.4,126.3 L356.4,121.1 L361.4,115.5" fill="none" stroke="#080808" stroke-width="1.20" opacity="0.25"/>
<path d="M335.6,102.4 L335.6,124.3 L335.8,146.2" fill="none" stroke="#080808" stroke-width="2.00" opacity="0.50"/>
</g>
</g></g>
<g clip-path="url(#c23)"><g filter="url(#g3)">
<rect x="333.4" y="145.6" width="49.8" height="41.8" fill="#565656"/>
<g filter="url(#bl6)">
<path d="M348.4,144.6 L352.4,170.5 L356.9,189.4" fill="none" stroke="#080808" stroke-width="1.70" opacity="0.50"/>
<path d="M365.4,144.6 L374.4,157.7 L384.4,169.7" fill="none" stroke="#080808" stroke-width="1.60" opacity="0.43"/>
<path d="M372.4,144.6 L378.4,152.2 L384.4,158.5" fill="none" stroke="#080808" stroke-width="1.30" opacity="0.36"/>
<path d="M379.4,164.9 L372.4,174.5 L361.4,189.4" fill="none" stroke="#080808" stroke-width="1.60" opacity="0.43"/>
<path d="M351.4,168.5 L356.4,163.3 L361.4,157.7" fill="none" stroke="#080808" stroke-width="1.20" opacity="0.25"/>
<path d="M335.6,144.6 L335.6,166.5 L335.8,188.4" fill="none" stroke="#080808" stroke-width="2.00" opacity="0.50"/>
</g>
</g></g>
<g clip-path="url(#c24)"><g filter="url(#g3)">
<rect x="333.4" y="187.8" width="49.8" height="41.8" fill="#565656"/>
<g filter="url(#bl6)">
<path d="M348.4,186.8 L352.4,212.7 L356.9,231.6" fill="none" stroke="#080808" stroke-width="1.70" opacity="0.50"/>
<path d="M365.4,186.8 L374.4,199.9 L384.4,211.9" fill="none" stroke="#080808" stroke-width="1.60" opacity="0.43"/>
<path d="M372.4,186.8 L378.4,194.4 L384.4,200.7" fill="none" stroke="#080808" stroke-width="1.30" opacity="0.36"/>
<path d="M379.4,207.1 L372.4,216.7 L361.4,231.6" fill="none" stroke="#080808" stroke-width="1.60" opacity="0.43"/>
<path d="M351.4,210.7 L356.4,205.5 L361.4,199.9" fill="none" stroke="#080808" stroke-width="1.20" opacity="0.25"/>
<path d="M335.6,186.8 L335.6,208.7 L335.8,230.6" fill="none" stroke="#080808" stroke-width="2.00" opacity="0.50"/>
</g>
</g></g>
<g clip-path="url(#c25)"><g filter="url(#g3)">
<rect x="333.4" y="229.9" width="49.8" height="41.8" fill="#565656"/>
<g filter="url(#bl6)">
<path d="M348.4,228.9 L352.4,254.8 L356.9,273.7" fill="none" stroke="#080808" stroke-width="1.70" opacity="0.50"/>
<path d="M365.4,228.9 L374.4,242.0 L384.4,254.0" fill="none" stroke="#080808" stroke-width="1.60" opacity="0.43"/>
<path d="M372.4,228.9 L378.4,236.5 L384.4,242.8" fill="none" stroke="#080808" stroke-width="1.30" opacity="0.36"/>
<path d="M379.4,249.2 L372.4,258.8 L361.4,273.7" fill="none" stroke="#080808" stroke-width="1.60" opacity="0.43"/>
<path d="M351.4,252.8 L356.4,247.6 L361.4,242.0" fill="none" stroke="#080808" stroke-width="1.20" opacity="0.25"/>
<path d="M335.6,228.9 L335.6,250.8 L335.8,272.7" fill="none" stroke="#080808" stroke-width="2.00" opacity="0.50"/>
</g>
</g></g>
<g clip-path="url(#c26)"><g filter="url(#g3)">
<rect x="333.4" y="272.1" width="49.8" height="41.8" fill="#565656"/>
<g filter="url(#bl6)">
<path d="M348.4,271.1 L352.4,297.0 L356.9,315.9" fill="none" stroke="#080808" stroke-width="1.70" opacity="0.50"/>
<path d="M365.4,271.1 L374.4,284.2 L384.4,296.2" fill="none" stroke="#080808" stroke-width="1.60" opacity="0.43"/>
<path d="M372.4,271.1 L378.4,278.7 L384.4,285.0" fill="none" stroke="#080808" stroke-width="1.30" opacity="0.36"/>
<path d="M379.4,291.4 L372.4,301.0 L361.4,315.9" fill="none" stroke="#080808" stroke-width="1.60" opacity="0.43"/>
<path d="M351.4,295.0 L356.4,289.8 L361.4,284.2" fill="none" stroke="#080808" stroke-width="1.20" opacity="0.25"/>
<path d="M335.6,271.1 L335.6,293.0 L335.8,314.9" fill="none" stroke="#080808" stroke-width="2.00" opacity="0.50"/>
</g>
</g></g>
<g clip-path="url(#c21)"><path d="M365.3,79.0 L364.0,80.8 L364.6,83.1 L362.7,84.2 L362.2,86.4 L359.9,86.6 L358.4,87.8 L356.4,87.3 L354.4,89.1 L352.9,87.1 L350.4,87.7 L350.1,85.0 L347.7,84.7 L348.1,82.3 L346.0,81.0 L347.0,79.0 L346.5,77.1 L348.1,75.7 L347.8,73.4 L349.6,72.4 L350.5,70.4 L353.0,71.3 L354.5,69.1 L356.3,71.0 L358.5,69.7 L359.5,72.0 L361.7,72.2 L362.6,73.8 L364.1,75.2 L363.4,77.3 Z M363.6,89.2 L366,89.6 L365.8,91.6 L363.6,91.2 Z M346.2,69.4 l1.2,0.2 l-0.2,1.2 l-1.2,-0.2 Z" fill="#142018" stroke="#142018" stroke-width="4.5" opacity="0.33" filter="url(#bl2)"/><path d="M365.3,79.0 L364.0,80.8 L364.6,83.1 L362.7,84.2 L362.2,86.4 L359.9,86.6 L358.4,87.8 L356.4,87.3 L354.4,89.1 L352.9,87.1 L350.4,87.7 L350.1,85.0 L347.7,84.7 L348.1,82.3 L346.0,81.0 L347.0,79.0 L346.5,77.1 L348.1,75.7 L347.8,73.4 L349.6,72.4 L350.5,70.4 L353.0,71.3 L354.5,69.1 L356.3,71.0 L358.5,69.7 L359.5,72.0 L361.7,72.2 L362.6,73.8 L364.1,75.2 L363.4,77.3 Z M363.6,89.2 L366,89.6 L365.8,91.6 L363.6,91.2 Z M346.2,69.4 l1.2,0.2 l-0.2,1.2 l-1.2,-0.2 Z" fill="#f60b12"/></g>
<g clip-path="url(#c22)"><path d="M356.1,111 C362,111 366.6,115.4 366.6,121.1 C366.6,124.4 365.2,127 363.4,128.8 L365,130.8 L363.6,131.4 L361.6,130 C360,130.8 358.2,131.2 356.1,131.2 C350.2,131.2 345.6,126.8 345.6,121.1 C345.6,115.4 350.2,111 356.1,111 Z" fill="#142018" stroke="#142018" stroke-width="4.5" opacity="0.33" filter="url(#bl2)"/><path d="M356.1,111 C362,111 366.6,115.4 366.6,121.1 C366.6,124.4 365.2,127 363.4,128.8 L365,130.8 L363.6,131.4 L361.6,130 C360,130.8 358.2,131.2 356.1,131.2 C350.2,131.2 345.6,126.8 345.6,121.1 C345.6,115.4 350.2,111 356.1,111 Z" fill="#f60b12"/></g>
<g clip-path="url(#c23)"><ellipse cx="358.4" cy="164.7" rx="16" ry="12.6" transform="rotate(37 358.4 164.7)" fill="#142018" opacity="0.33" filter="url(#bl2)"/><ellipse cx="358.4" cy="164.7" rx="14" ry="10.6" transform="rotate(37 358.4 164.7)" fill="#f60b12"/></g>
<g clip-path="url(#c24)"><ellipse cx="359.3" cy="205.6" rx="16.2" ry="12.8" transform="rotate(41 359.3 205.6)" fill="#142018" opacity="0.33" filter="url(#bl2)"/><ellipse cx="359.3" cy="205.6" rx="14.2" ry="10.8" transform="rotate(41 359.3 205.6)" fill="#f60b12"/></g>
<g clip-path="url(#c25)"><path d="M346.5,241.2 C347.3,239.5 349.4,238.3 351.5,237.6 C353.6,236.9 356.6,236.6 358.9,237.1 C361.2,237.6 363.6,238.8 365.5,240.4 C367.4,242.1 369.0,244.5 370.5,247.0 C372.0,249.5 373.6,253.2 374.3,255.3 C375.0,257.4 375.1,258.5 374.6,259.4 C374.1,260.3 373.2,260.6 371.3,260.7 C369.4,260.8 365.9,260.2 363.1,259.7 C360.4,259.1 357.0,258.4 354.8,257.4 C352.6,256.4 351.2,255.2 349.8,253.6 C348.4,252.0 347.1,249.9 346.5,247.8 C345.9,245.7 345.7,242.9 346.5,241.2 Z" fill="#142018" stroke="#142018" stroke-width="4.5" opacity="0.33" filter="url(#bl2)"/><path d="M346.5,241.2 C347.3,239.5 349.4,238.3 351.5,237.6 C353.6,236.9 356.6,236.6 358.9,237.1 C361.2,237.6 363.6,238.8 365.5,240.4 C367.4,242.1 369.0,244.5 370.5,247.0 C372.0,249.5 373.6,253.2 374.3,255.3 C375.0,257.4 375.1,258.5 374.6,259.4 C374.1,260.3 373.2,260.6 371.3,260.7 C369.4,260.8 365.9,260.2 363.1,259.7 C360.4,259.1 357.0,258.4 354.8,257.4 C352.6,256.4 351.2,255.2 349.8,253.6 C348.4,252.0 347.1,249.9 346.5,247.8 C345.9,245.7 345.7,242.9 346.5,241.2 Z" fill="#f60b12"/></g>
<g clip-path="url(#c26)"><path d="M346.5,282.5 C347.3,281.1 349.1,279.3 350.7,278.4 C352.3,277.5 354.3,277.0 356.4,277.3 C358.5,277.6 361.2,278.8 363.1,280.1 C365.0,281.4 366.5,282.9 368.0,285.0 C369.5,287.1 370.6,289.9 372.1,292.5 C373.6,295.1 375.6,298.4 377.1,300.7 C378.6,303.0 380.1,304.8 381.2,306.4 C382.3,308.0 383.2,309.5 383.6,310.6 C384.0,311.7 384.0,312.8 383.6,313.0 C383.2,313.2 381.9,312.3 381.0,311.6 C380.1,310.9 379.2,310.1 377.9,309.0 C376.6,307.9 374.8,306.3 373.0,304.9 C371.2,303.5 369.4,301.8 367.2,300.7 C365.0,299.6 362.1,299.0 359.8,298.2 C357.5,297.4 355.0,296.9 353.1,295.8 C351.2,294.7 349.4,293.1 348.2,291.6 C347.0,290.1 346.3,288.2 346.0,286.7 C345.7,285.2 345.7,283.9 346.5,282.5 Z" fill="#142018" stroke="#142018" stroke-width="4.5" opacity="0.33" filter="url(#bl2)"/><path d="M346.5,282.5 C347.3,281.1 349.1,279.3 350.7,278.4 C352.3,277.5 354.3,277.0 356.4,277.3 C358.5,277.6 361.2,278.8 363.1,280.1 C365.0,281.4 366.5,282.9 368.0,285.0 C369.5,287.1 370.6,289.9 372.1,292.5 C373.6,295.1 375.6,298.4 377.1,300.7 C378.6,303.0 380.1,304.8 381.2,306.4 C382.3,308.0 383.2,309.5 383.6,310.6 C384.0,311.7 384.0,312.8 383.6,313.0 C383.2,313.2 381.9,312.3 381.0,311.6 C380.1,310.9 379.2,310.1 377.9,309.0 C376.6,307.9 374.8,306.3 373.0,304.9 C371.2,303.5 369.4,301.8 367.2,300.7 C365.0,299.6 362.1,299.0 359.8,298.2 C357.5,297.4 355.0,296.9 353.1,295.8 C351.2,294.7 349.4,293.1 348.2,291.6 C347.0,290.1 346.3,288.2 346.0,286.7 C345.7,285.2 345.7,283.9 346.5,282.5 Z" fill="#f60b12"/></g>
<g transform="translate(349.6,41.6) rotate(65.5)"><polygon points="0.3,0 -2.4,-1.9 -2.8,-1.3 -10.8,-1.25 -10.8,1.25 -2.8,1.3 -2.4,1.9" fill="#fff"/></g>
<text class="b" x="5.7" y="328.3" font-size="12" text-anchor="middle">B</text>
<line x1="39.8" y1="323" x2="39.8" y2="412" stroke="#c8c8c8" stroke-width="0.8"/>
<line x1="39.8" y1="412" x2="166" y2="412" stroke="#c8c8c8" stroke-width="0.8"/>
<text transform="translate(33.4,327.6) scale(0.88,1)" font-size="10.5" text-anchor="end">200</text>
<line x1="38" y1="322.8" x2="39.8" y2="322.8" stroke="#cfcfcf" stroke-width="0.6"/>
<text transform="translate(33.4,349.8) scale(0.88,1)" font-size="10.5" text-anchor="end">150</text>
<line x1="38" y1="345.0" x2="39.8" y2="345.0" stroke="#cfcfcf" stroke-width="0.6"/>
<text transform="translate(33.4,371.8) scale(0.88,1)" font-size="10.5" text-anchor="end">100</text>
<line x1="38" y1="367.0" x2="39.8" y2="367.0" stroke="#cfcfcf" stroke-width="0.6"/>
<text transform="translate(33.4,394.1) scale(0.88,1)" font-size="10.5" text-anchor="end">50</text>
<line x1="38" y1="389.4" x2="39.8" y2="389.4" stroke="#cfcfcf" stroke-width="0.6"/>
<text transform="translate(33.4,416.2) scale(0.88,1)" font-size="10.5" text-anchor="end">0</text>
<line x1="38" y1="411.5" x2="39.8" y2="411.5" stroke="#cfcfcf" stroke-width="0.6"/>
<text transform="translate(40.1,431.5) scale(0.88,1)" font-size="10.5" text-anchor="middle">0</text>
<line x1="40.0" y1="412" x2="40.0" y2="413.8" stroke="#cfcfcf" stroke-width="0.6"/>
<text transform="translate(65.1,431.5) scale(0.88,1)" font-size="10.5" text-anchor="middle">50</text>
<line x1="65.0" y1="412" x2="65.0" y2="413.8" stroke="#cfcfcf" stroke-width="0.6"/>
<text transform="translate(90.5,431.5) scale(0.88,1)" font-size="10.5" text-anchor="middle">100</text>
<line x1="90.0" y1="412" x2="90.0" y2="413.8" stroke="#cfcfcf" stroke-width="0.6"/>
<text transform="translate(115.6,431.5) scale(0.88,1)" font-size="10.5" text-anchor="middle">150</text>
<line x1="115.0" y1="412" x2="115.0" y2="413.8" stroke="#cfcfcf" stroke-width="0.6"/>
<text transform="translate(140.2,431.5) scale(0.88,1)" font-size="10.5" text-anchor="middle">200</text>
<line x1="140.0" y1="412" x2="140.0" y2="413.8" stroke="#cfcfcf" stroke-width="0.6"/>
<text transform="translate(164.9,431.5) scale(0.88,1)" font-size="10.5" text-anchor="middle">250</text>
<line x1="165.0" y1="412" x2="165.0" y2="413.8" stroke="#cfcfcf" stroke-width="0.6"/>
<text transform="translate(102.8,448.2) scale(0.88,1)" font-size="10.9" text-anchor="middle">Seconds</text>
<text transform="translate(10.4,370.3) scale(0.8,1) rotate(-90)" font-size="11.1" text-anchor="middle">F Platelet</text>
<text class="b" x="135.3" y="342.7" font-size="8.5" text-anchor="middle">PATIENT A</text>
<polyline points="40.0,411.5 41.3,411.1 42.5,411.2 43.7,411.0 45.0,409.0 45.6,407.4 46.0,406.3 46.5,404.6 46.6,403.4 46.9,401.9 47.0,401.1 47.2,400.0 47.4,398.4 47.7,397.7 47.8,396.4 48.0,395.0 48.1,393.5 48.3,392.6 48.5,391.7 48.8,390.0 49.0,388.8 49.1,387.8 49.2,386.5 49.4,385.4 49.5,384.0 49.8,383.2 50.0,382.0 50.4,380.9 50.6,379.6 50.8,378.2 51.0,377.0 51.3,375.6 51.5,374.8 51.8,373.7 52.0,372.1 52.3,371.0 52.4,372.2 52.5,373.8 52.6,374.5 52.8,376.0 53.1,377.5 53.3,378.7 53.4,377.4 53.6,376.1 53.7,374.5 53.8,373.4 53.8,371.8 54.1,370.6 54.1,369.2 54.2,368.0 54.2,366.7 54.4,365.3 54.4,364.6 54.6,363.3 54.7,362.2 54.8,360.7 54.8,359.9 54.8,358.6 54.9,357.1 55.0,356.0 55.0,355.0 55.2,353.3 55.2,352.5 55.2,351.3 55.3,349.7 55.4,348.6 55.5,347.1 55.7,346.4 55.7,345.1 55.9,343.5 55.9,342.5 55.9,340.9 56.0,340.0 56.1,338.9 56.2,337.7 56.2,336.2 56.3,335.2 56.3,333.7 56.4,332.6 56.6,331.3 56.6,329.7 56.7,328.7 56.8,330.0 56.8,331.3 56.9,332.4 56.9,334.0 56.9,334.7 57.0,335.9 57.2,337.3 57.1,338.8 57.2,340.0 57.2,341.3 57.3,342.5 57.4,343.6 57.5,345.0 57.5,346.3 57.7,347.7 57.7,348.8 58.4,351.0 58.7,352.7 58.8,353.8 59.0,355.6 59.5,356.5 60.0,357.7 60.4,359.0 60.9,360.0 61.3,361.1 61.9,362.3 62.4,363.3 63.0,364.5 63.4,363.4 63.8,361.8 64.2,360.4 64.2,361.9 64.4,363.0 64.6,364.3 64.6,365.4 64.7,366.7 64.8,368.0 65.1,369.1 65.2,371.0 65.4,372.0 65.8,370.4 66.0,369.0 66.7,367.0 66.8,368.0 67.0,369.1 67.1,370.8 67.2,371.9 67.4,373.0 67.6,374.7 67.8,376.1 68.0,377.7 68.5,378.9 69.1,380.0 69.6,381.5 70.8,380.5 72.1,378.7 72.5,380.0 72.9,381.8 73.2,383.0 73.6,384.4 74.0,385.8 74.4,387.3 75.7,388.5 76.8,389.5 78.0,390.5 79.2,392.0 81.0,393.2 83.0,393.0 83.7,391.5 84.4,390.0 85.0,388.9 85.4,387.3 86.6,389.0 87.9,388.3 88.7,387.2 89.4,386.0 90.8,384.4 91.4,385.8 91.8,387.0 92.7,389.2 93.7,390.2 94.6,391.0 96.5,392.0 98.4,391.0 100.4,390.8 102.0,392.0 103.3,392.5 104.5,393.3 105.8,392.8 107.0,392.4 107.6,393.9 108.0,395.0 108.2,396.6 108.5,397.6 109.2,396.4 110.0,395.4 111.1,394.6 112.3,394.0 113.6,393.8 115.0,393.6 116.3,393.3 117.5,393.3 119.0,394.6 121.0,395.8 121.5,394.7 122.1,393.0 122.6,392.0 123.1,390.8 123.7,389.4 124.2,388.3 124.8,386.9 125.1,388.3 125.5,389.1 125.7,390.2 126.0,391.6 126.3,392.7 126.5,394.0 126.7,395.7 127.0,396.7 128.3,396.8 129.6,397.0 130.8,397.2 132.2,397.6 134.0,396.4 135.7,395.8 136.8,397.0 137.9,398.4 138.4,397.1 138.8,395.9 139.1,395.0 140.4,397.0 141.7,399.0 142.6,398.1 143.4,396.7 143.7,395.0 144.0,393.6 144.3,392.5 144.6,391.0 144.9,389.5 145.1,388.4 145.5,387.4 145.7,386.3 146.6,387.2 146.7,388.6 147.0,390.3 147.0,391.6 147.2,393.0 147.3,394.2 147.5,395.7 147.7,397.2 147.8,398.4 148.0,397.4 148.0,395.6 148.2,394.4 148.2,393.6 148.2,392.0 148.4,391.0 148.6,389.8 148.7,388.3 148.8,387.1 149.0,385.5 150.4,384.3 151.7,385.6 153.0,386.0 154.3,385.6 155.6,385.5 156.7,385.9 157.8,386.6 159.9,387.2 161.1,387.6 162.5,387.6 163.8,388.0 165.0,389.0" fill="none" stroke="#a2a2a2" stroke-width="1.0" stroke-linejoin="round"/>
<polyline points="40.0,412.1 41.2,412.3 42.6,411.6 43.7,411.7 45.0,411.9 46.2,412.0 47.5,412.0 48.8,411.6 50.0,411.5 51.3,411.5 52.3,411.3 53.6,411.3 54.7,410.7 56.0,410.7 57.2,411.0 58.5,411.2 59.6,411.3 60.8,411.2 62.0,411.1 63.4,410.7 64.7,410.6 66.0,410.5 67.5,411.1 69.0,411.1 70.3,410.2 71.5,409.9 72.7,409.5 74.0,408.9 75.2,408.1 76.3,408.0 78.3,407.1 79.3,405.8 80.2,405.1 80.9,403.8 81.6,402.5 82.3,400.8 83.0,399.3 84.6,398.4 84.9,400.1 85.3,401.0 85.6,402.5 85.9,403.6 86.2,404.9 86.5,406.1 87.3,405.1 88.0,403.9 89.0,402.8 89.8,402.2 91.2,401.1 92.7,401.3 94.6,402.1 96.5,402.2 98.5,402.9 100.4,404.1 101.6,404.6 102.8,405.3 104.6,406.3 105.9,406.0 107.0,405.9 108.4,405.6 109.7,404.7 111.0,405.9 112.3,406.7 114.0,406.6 115.8,406.7 116.5,406.1 117.4,404.9 118.7,403.3 119.8,404.9 121.0,405.9 122.7,406.1 124.4,406.2 126.2,405.1 127.9,404.1 129.6,405.5 130.7,404.8 131.8,404.3 133.9,403.3 135.1,402.6 136.5,402.4 137.8,403.9 139.1,405.0 140.6,405.3 142.0,405.5 143.5,405.8 145.2,405.9 146.4,406.1 147.9,406.0 149.1,406.4 150.4,406.2 151.8,406.3 153.3,406.0 154.7,405.9 155.9,405.8 157.0,405.1 159.0,404.7 160.5,405.0 162.0,405.3 163.5,405.7 165.0,405.9" fill="none" stroke="#6a6a6a" stroke-width="1.05" stroke-linejoin="round"/>
<polyline points="40.0,412.0 41.9,411.8 44.0,412.0 45.9,411.8 48.0,411.9 50.0,411.8 52.0,412.1 54.0,412.0 56.1,412.0 57.9,411.8 60.0,412.2 62.0,411.9 64.1,411.9 66.0,411.9 68.0,412.0 70.0,412.2 72.0,411.9 74.1,412.1 76.0,411.8 78.0,412.2 80.0,412.0 82.0,411.9 84.0,412.1 86.0,412.0 88.0,411.8 90.0,411.9 92.0,412.0 94.1,412.1 96.0,412.1 98.0,411.8 100.0,412.0 101.9,412.0 104.1,411.7 106.0,411.9 108.0,411.7 110.0,412.0 112.0,412.1 114.0,411.8 116.0,411.8 117.9,411.8 120.0,411.8 122.1,411.6 124.1,411.7 126.2,411.8 128.3,412.0 130.4,411.8 132.4,411.8 134.5,411.9 136.5,411.7 138.6,411.7 140.7,412.0 142.7,412.0 144.8,412.0 146.8,411.9 148.9,411.9 150.9,411.8 153.1,411.8 155.1,411.8 157.1,411.8 159.2,412.1 161.3,411.8 163.3,412.1 165.4,412.0" fill="none" stroke="#0c0c0c" stroke-width="1.25"/>
<text class="b" x="72.4" y="370.6" font-size="7.4" text-anchor="middle">f</text>
<text class="b" x="77.6" y="403.4" font-size="7.4" text-anchor="middle">c</text>
<text class="b" x="169.8" y="414.6" font-size="7.4" text-anchor="middle">a</text>
<text class="b" x="192.6" y="326.4" font-size="11" text-anchor="middle">C</text>
<line x1="233.4" y1="326" x2="233.4" y2="487.4" stroke="#c0c0c0" stroke-width="0.9"/>
<line x1="231.6" y1="487.4" x2="507" y2="487.4" stroke="#c4c4c4" stroke-width="0.8"/>
<text x="226.4" y="491.8" font-size="8.6" text-anchor="end">0</text>
<line x1="231.2" y1="487.5" x2="233.4" y2="487.5" stroke="#c8c8c8" stroke-width="0.7"/>
<text x="226.4" y="478.4" font-size="8.6" text-anchor="end">100</text>
<line x1="231.2" y1="474.1" x2="233.4" y2="474.1" stroke="#c8c8c8" stroke-width="0.7"/>
<text x="226.4" y="465.0" font-size="8.6" text-anchor="end">200</text>
<line x1="231.2" y1="460.7" x2="233.4" y2="460.7" stroke="#c8c8c8" stroke-width="0.7"/>
<text x="226.4" y="451.5" font-size="8.6" text-anchor="end">300</text>
<line x1="231.2" y1="447.2" x2="233.4" y2="447.2" stroke="#c8c8c8" stroke-width="0.7"/>
<text x="226.4" y="438.1" font-size="8.6" text-anchor="end">400</text>
<line x1="231.2" y1="433.8" x2="233.4" y2="433.8" stroke="#c8c8c8" stroke-width="0.7"/>
<text x="226.4" y="424.7" font-size="8.6" text-anchor="end">500</text>
<line x1="231.2" y1="420.4" x2="233.4" y2="420.4" stroke="#c8c8c8" stroke-width="0.7"/>
<text x="226.4" y="411.3" font-size="8.6" text-anchor="end">600</text>
<line x1="231.2" y1="407.0" x2="233.4" y2="407.0" stroke="#c8c8c8" stroke-width="0.7"/>
<text x="226.4" y="397.9" font-size="8.6" text-anchor="end">700</text>
<line x1="231.2" y1="393.6" x2="233.4" y2="393.6" stroke="#c8c8c8" stroke-width="0.7"/>
<text x="226.4" y="384.4" font-size="8.6" text-anchor="end">800</text>
<line x1="231.2" y1="380.1" x2="233.4" y2="380.1" stroke="#c8c8c8" stroke-width="0.7"/>
<text x="226.4" y="371.0" font-size="8.6" text-anchor="end">900</text>
<line x1="231.2" y1="366.7" x2="233.4" y2="366.7" stroke="#c8c8c8" stroke-width="0.7"/>
<text x="226.4" y="357.6" font-size="8.6" text-anchor="end">1000</text>
<line x1="231.2" y1="353.3" x2="233.4" y2="353.3" stroke="#c8c8c8" stroke-width="0.7"/>
<text x="226.4" y="344.2" font-size="8.6" text-anchor="end">1100</text>
<line x1="231.2" y1="339.9" x2="233.4" y2="339.9" stroke="#c8c8c8" stroke-width="0.7"/>
<text x="226.4" y="330.8" font-size="8.6" text-anchor="end">1200</text>
<line x1="231.2" y1="326.5" x2="233.4" y2="326.5" stroke="#c8c8c8" stroke-width="0.7"/>
<text x="233.8" y="502.4" font-size="8.6" text-anchor="middle">0</text>
<text x="301.9" y="502.4" font-size="8.6" text-anchor="middle">50</text>
<text x="370.1" y="502.4" font-size="8.6" text-anchor="middle">100</text>
<text x="438.2" y="502.4" font-size="8.6" text-anchor="middle">150</text>
<text x="506.4" y="502.4" font-size="8.6" text-anchor="middle">200</text>
<text x="374.6" y="517.4" font-size="10.8" text-anchor="middle">Seconds</text>
<text transform="translate(201.7,405.5) rotate(-90)" font-size="9.45" text-anchor="middle">F Platelet</text>
<text x="444" y="327.8" font-size="12.6" text-anchor="middle">Patient C</text>
<polyline points="233.2,485.0 234.6,484.6 236.0,484.6 238.0,484.1 240.0,483.7 241.6,483.4 243.4,482.7 245.0,482.6 246.6,482.0 248.3,482.0 250.0,481.2 252.0,480.8 254.0,480.0 255.7,479.4 257.5,478.7 260.0,478.6 262.5,478.0 263.8,477.4 265.0,476.6 266.3,475.8 267.5,475.0 268.6,474.2 269.8,473.3 271.0,472.2 272.2,470.9 273.7,470.1 275.0,468.7 276.4,467.8 277.6,466.6 278.9,465.3 280.0,463.7 280.7,462.4 281.4,461.1 281.9,460.1 282.6,458.6 283.1,456.9 283.8,455.8 284.4,454.1 285.0,452.5 285.4,451.1 285.8,449.7 286.2,448.5 286.6,447.2 286.9,445.9 287.2,444.5 287.6,443.0 288.0,441.7 288.3,440.2 288.6,438.6 289.0,437.2 289.2,435.4 289.7,434.2 290.0,432.5 290.6,430.8 291.0,429.4 291.6,427.9 292.0,426.7 292.6,425.0 293.0,423.6 293.5,422.1 294.1,420.7 294.6,419.0 295.0,417.5 295.3,416.0 295.7,414.7 296.1,413.1 296.4,411.9 296.9,410.2 297.3,408.9 297.6,407.6 297.9,406.4 298.3,404.7 298.6,403.4 299.0,401.9 299.3,400.7 299.7,398.9 300.0,397.5 300.3,395.9 300.7,395.0 301.0,393.3 301.5,391.8 301.9,390.1 302.1,389.1 302.6,387.6 302.9,386.2 303.3,384.8 303.7,383.4 303.9,381.5 304.4,380.5 304.6,378.8 305.0,377.5 305.3,376.1 305.5,374.5 305.9,373.1 306.1,371.6 306.3,370.4 306.8,368.9 307.0,367.4 307.2,365.9 307.4,364.8 307.7,363.0 307.9,361.9 308.2,360.2 308.4,359.1 308.7,357.5 309.0,356.2 309.4,354.4 309.6,353.2 309.9,351.3 310.2,349.9 310.6,348.4 311.0,347.2 311.2,345.4 311.6,344.4 311.8,343.0 312.1,341.2 312.5,340.0 313.2,340.6 313.8,339.0 314.4,337.0 315.3,335.3 316.2,333.7 317.1,332.5 318.0,331.4 318.7,330.3 319.6,328.6 320.7,326.8 321.7,325.5 322.3,327.1 322.8,328.2 323.2,329.6 323.6,331.2 324.2,332.4 324.6,333.7 325.0,335.0 325.6,336.5 326.2,338.0 326.9,339.9 327.6,341.4 328.1,343.1 328.8,344.7 329.5,346.2 330.0,347.5 330.8,349.4 331.6,350.5 332.4,352.4 333.0,353.5 333.7,355.0 334.4,356.2 335.0,357.5 336.4,358.2 337.5,357.4 338.3,358.7 339.2,359.7 340.0,361.0 341.1,362.3 341.9,363.5 343.1,364.9 344.1,366.0 345.0,367.5 346.1,369.0 346.9,370.2 348.1,371.3 349.0,372.2 350.0,373.6 351.0,375.0 351.9,376.0 352.8,377.3 353.7,377.9 354.6,379.1 355.7,380.6 356.6,381.2 357.5,382.5 358.7,383.3 360.0,384.4 361.0,385.3 362.0,386.5 363.0,387.2 364.0,388.4 365.2,389.0 366.4,390.2 367.5,390.6 368.8,391.6 370.0,392.5 371.3,393.4 372.7,394.1 374.0,394.6 375.7,395.4 377.5,396.2 378.6,395.4 379.3,396.7 380.0,398.0 381.3,399.0 382.5,400.0 383.6,400.8 384.9,401.8 386.0,402.6 387.3,403.3 388.7,404.6 390.0,405.6 391.2,406.9 392.5,407.8 393.6,408.6 394.9,409.3 396.3,410.1 397.5,411.2 399.3,411.5 401.0,411.6 403.0,411.6 405.0,411.2 407.0,412.6 408.7,413.7 409.8,415.2 410.9,416.2 412.0,417.8 412.9,418.6 413.9,420.2 415.0,421.2 416.4,421.8 417.9,423.1 419.6,423.5 421.0,424.6 422.4,425.0 423.7,425.9 424.9,426.6 426.1,427.1 427.5,427.5 428.8,428.3 430.0,428.9 431.5,429.6 432.7,429.9 434.0,430.8 435.6,431.6 436.9,432.1 438.5,432.8 440.0,433.7 441.3,434.9 442.6,435.7 444.0,436.8 445.2,437.6 446.3,438.3 447.5,439.5 449.2,439.6 451.0,439.2 452.9,439.1 455.0,438.7 456.7,439.0 458.3,439.3 460.0,439.4 461.7,439.4 463.3,439.7 465.0,439.5 466.5,439.2 468.0,439.7 469.5,439.4 471.0,439.4 472.6,439.4 474.3,439.5 475.8,439.7 477.5,440.0 479.2,440.3 480.8,440.3 482.4,440.5 484.0,440.8 485.5,441.0 486.9,440.8 488.5,441.1 490.0,441.2 492.0,440.8 494.0,440.8 495.8,440.9 497.5,441.2 499.0,440.6 499.7,438.9 500.2,437.6 500.9,435.9 501.6,434.2 502.6,436.4 503.4,438.4 504.1,436.5 504.6,434.6 505.4,434.4 505.7,436.5 506.0,438.2" fill="none" stroke="#101010" stroke-width="1.05" stroke-linejoin="round"/>
<polyline points="233.2,482.5 234.6,481.9 236.1,481.5 237.5,480.9 239.0,480.6 240.5,480.3 242.0,479.8 243.5,479.2 245.0,478.7 246.4,477.8 248.1,477.1 249.5,476.7 251.0,475.8 252.3,475.3 253.6,474.4 254.9,473.9 256.1,473.3 257.5,472.5 258.8,471.7 260.1,470.8 261.3,469.9 262.7,469.3 264.0,468.2 265.2,467.3 266.4,466.6 267.6,465.7 268.8,464.6 270.0,463.7 271.2,462.9 272.4,461.9 273.5,461.4 274.8,460.2 276.0,459.6 277.3,458.6 278.6,457.7 279.9,457.1 281.2,455.9 282.5,455.0 283.5,453.9 284.6,452.5 285.6,451.3 286.5,450.4 287.6,449.0 288.5,447.5 289.6,446.5 290.5,445.0 291.5,443.7 292.5,442.5 293.4,441.1 294.3,440.3 295.2,439.1 296.0,437.8 297.0,436.3 298.0,435.4 299.1,433.8 300.0,432.5 301.3,431.1 302.6,429.6 303.8,428.5 305.0,427.6 306.5,427.1 308.0,426.6 309.7,426.3 311.2,426.2 312.7,426.7 314.4,427.4 315.9,427.8 317.5,428.7 319.2,429.4 321.0,429.8 322.9,430.1 325.0,430.5 326.7,430.5 328.3,430.0 330.0,430.0 331.6,429.8 333.3,430.1 335.0,430.1 336.7,430.5 338.4,431.1 340.0,431.8 341.7,432.3 343.3,433.2 345.0,433.7 346.7,434.5 348.3,434.9 350.0,435.6 351.7,436.0 353.4,436.8 355.0,437.5 356.7,438.5 358.3,439.0 360.0,440.0 361.5,440.2 363.0,440.6 364.4,440.9 366.0,441.4 367.5,441.8 369.0,442.0 370.5,442.2 372.0,442.2 373.5,442.5 374.9,442.6 376.5,442.7 378.0,443.0 379.6,443.1 381.0,442.8 382.5,443.0 384.0,442.8 385.5,442.9 387.0,442.7 388.6,442.5 390.0,442.5 391.4,442.5 393.1,442.3 394.4,441.9 396.0,441.6 397.6,441.7 399.3,441.6 400.8,441.1 402.5,441.2 404.3,441.7 406.0,442.0 408.1,442.6 410.0,443.0 411.6,443.6 413.3,444.7 415.0,445.2 416.6,446.1 418.4,446.9 420.0,447.5 421.7,448.3 423.3,448.9 425.0,449.4 426.6,450.1 428.4,450.8 430.0,451.2 431.7,451.7 433.3,451.9 435.0,452.6 436.7,453.0 438.3,453.5 440.0,453.7 441.5,453.9 443.0,454.5 444.5,454.5 446.0,455.0 447.6,455.4 449.2,455.6 450.9,456.0 452.5,456.2 454.3,456.3 456.1,456.9 458.0,457.0 459.4,457.0 460.9,457.4 462.3,457.3 463.7,457.5 465.0,459.4 466.2,460.5 467.6,460.8 469.1,461.1 470.6,461.1 472.0,461.4 473.9,461.5 475.7,461.5 477.5,461.7 479.1,461.4 480.7,461.4 482.4,461.3 484.0,461.2 485.4,461.2 487.0,460.9 488.5,460.8 490.0,460.7 491.6,460.5 493.4,460.1 495.0,460.0 495.8,458.4 496.2,457.5 497.6,457.4 499.0,457.4 501.2,457.0 502.6,455.4 503.7,454.5 506.2,454.5" fill="none" stroke="#181818" stroke-width="0.95" stroke-linejoin="round"/>
<polyline points="233.2,486.6 234.7,486.7 236.1,486.8 237.5,486.7 238.8,486.0 240.2,486.8 241.5,486.8 242.9,486.3 244.4,486.4 245.7,485.9 247.3,486.1 248.5,486.5 250.0,486.2 251.4,486.4 252.9,486.3 254.6,485.7 255.9,485.9 257.6,486.5 259.1,485.9 260.5,486.1 262.1,485.8 263.6,486.2 265.0,486.0 266.4,486.2 267.8,485.6 269.2,485.3 270.7,485.2 272.2,484.8 273.5,485.0 275.0,485.0 276.5,485.0 278.0,484.3 279.4,484.4 281.0,484.0 282.5,484.1 284.3,483.5 286.0,482.4 287.5,482.5 289.3,481.4 291.0,480.6 292.2,479.2 293.7,478.7 294.9,477.3 296.0,476.2 297.0,475.4 298.6,474.3 300.0,472.5 301.3,471.4 302.6,470.6 305.0,469.5 306.6,469.4 308.0,469.2 309.7,469.0 311.2,469.5 312.9,470.4 314.4,470.8 316.1,471.2 317.5,472.5 319.2,472.9 321.0,474.0 323.1,474.6 325.0,475.0 326.6,475.0 327.9,475.2 329.4,475.1 331.0,475.4 332.5,474.9 334.4,475.4 335.8,474.8 337.5,475.0 338.9,475.6 340.3,475.2 341.8,475.5 343.1,475.5 344.7,475.3 346.0,475.8 347.5,475.4 348.9,476.2 350.6,476.2 352.1,476.2 353.5,475.8 355.0,476.2 356.5,475.9 357.8,476.0 359.4,476.6 360.7,476.5 362.2,476.0 363.5,476.0 365.0,476.0 366.3,476.1 368.0,476.2 369.3,476.8 370.7,476.6 372.1,476.3 373.7,477.1 375.0,477.0 376.5,477.0 377.9,477.5 379.4,477.6 380.8,477.4 382.1,477.5 383.6,478.1 385.0,478.0 386.5,477.9 387.9,478.2 389.3,477.7 390.8,478.0 392.2,478.3 393.7,478.5 395.0,478.4 396.5,478.3 397.9,478.8 399.4,478.5 400.8,479.1 402.3,479.3 403.6,478.9 405.0,479.0 406.5,478.6 407.9,479.2 409.3,478.9 410.6,478.9 412.2,478.8 413.6,478.6 415.0,478.4 416.7,477.7 418.4,476.9 420.0,476.0 421.5,475.0 423.2,474.7 424.8,474.2 426.3,474.5 427.5,475.5 429.0,476.0 430.2,476.6 431.4,476.9 432.7,477.8 434.0,478.6 435.4,478.5 437.1,478.9 438.7,479.2 440.4,479.0 441.8,479.0 443.4,479.4 445.0,479.8 446.5,479.5 447.7,479.9 449.2,480.2 450.7,480.2 452.3,480.3 453.5,480.6 455.0,480.4 456.5,480.6 457.8,480.1 459.3,480.1 460.8,480.4 462.1,479.9 463.4,480.1 465.0,479.6 466.4,479.4 467.8,480.0 469.4,480.1 470.7,480.1 472.1,480.1 473.5,480.9 475.0,480.6 476.5,481.1 477.8,480.8 479.3,481.2 480.7,480.8 482.1,481.3 483.6,480.8 485.0,481.0 486.5,480.5 487.8,480.7 489.4,480.8 490.7,480.0 492.3,480.1 493.5,480.4 495.0,480.0 496.4,479.3 497.9,479.4 499.5,478.6 501.0,478.0 502.7,478.3 504.2,478.6 506.0,478.6" fill="none" stroke="#101010" stroke-width="1.0" stroke-linejoin="round"/>
<polyline points="233.2,486.4 235.0,486.5 236.5,486.0 238.3,485.3 240.0,485.6 241.6,486.3 243.0,487.0 244.5,486.8 245.9,486.7 247.2,487.1 248.7,486.9 250.1,486.5 251.4,487.1 253.0,487.1 254.3,487.1 255.8,486.3 257.2,487.0 258.5,486.2 260.0,486.6 261.4,486.6 263.0,486.9 264.5,486.0 266.1,486.1 267.5,486.5 269.1,486.1 270.6,486.2 272.0,485.3 273.4,485.8 275.0,485.6 276.5,485.5 278.2,485.6 279.8,484.6 281.3,484.6 283.0,484.6 284.4,484.3 286.1,483.7 287.5,483.7 288.6,482.5 290.0,481.0 291.1,480.1 292.5,478.7 294.4,480.2 296.2,481.2 298.0,479.4 300.0,477.5 301.9,477.8 303.6,478.4 305.5,478.7 307.5,478.7 308.7,477.5 310.0,476.6 311.4,475.4 312.5,475.0 313.4,475.9 314.4,477.6 315.3,479.0 316.2,480.0 318.0,480.7 320.0,480.4 321.8,480.7 323.5,480.3 325.0,480.0 326.4,478.6 327.6,477.4 328.8,476.5 330.0,475.0 331.9,475.7 333.6,476.4 335.4,476.9 337.5,477.5 338.8,477.5 340.4,477.0 341.6,476.4 343.2,476.1 344.5,476.1 346.0,476.0 347.6,475.8 349.0,475.4 350.5,475.9 352.0,475.1 353.4,475.1 355.0,475.0 356.4,475.2 357.8,476.0 359.4,476.2 360.7,476.8 362.1,476.8 363.6,477.0 365.0,477.4 366.6,477.9 367.7,477.5 369.2,477.9 370.8,477.6 372.2,477.9 373.7,478.3 375.0,478.6 376.3,478.7 378.0,477.8 379.3,477.9 380.8,477.9 382.1,477.3 383.5,476.7 385.0,476.8 386.5,476.5 387.8,477.1 389.2,477.2 390.8,476.7 392.3,477.2 393.6,477.4 395.0,477.4 396.5,476.8 397.9,476.6 399.4,477.2 400.7,477.0 402.2,476.6 403.7,475.8 405.0,476.0 406.4,476.6 407.8,476.7 409.3,476.4 410.8,476.4 412.1,477.5 413.4,477.6 415.0,477.4 416.4,478.0 417.8,478.4 419.1,478.7 420.8,478.1 422.2,479.0 423.5,478.6 425.0,479.4 426.3,479.4 427.9,480.2 429.3,480.4 430.6,479.9 432.0,480.5 433.6,480.5 435.0,480.6 436.3,480.7 437.9,480.5 439.3,480.6 440.6,480.8 442.2,481.0 443.5,481.3 445.0,481.6 446.4,481.2 447.8,481.8 449.2,481.0 450.7,481.0 452.2,481.5 453.5,480.8 455.0,481.0 456.4,481.0 458.0,481.1 459.3,481.4 460.8,481.7 462.1,481.9 463.7,481.9 465.0,481.8 466.5,481.2 467.7,481.2 469.4,480.7 470.8,480.5 472.1,480.3 473.6,480.0 475.0,480.2 476.3,480.7 478.0,480.7 479.3,480.7 480.8,481.3 482.2,481.0 483.5,481.2 485.0,481.8 486.3,482.4 487.9,482.4 489.4,482.2 490.7,482.3 492.1,482.2 493.7,482.7 495.0,482.4 496.4,482.1 497.9,481.3 499.6,480.9 501.0,480.0 502.7,480.8 504.4,480.9 506.0,481.0" fill="none" stroke="#101010" stroke-width="1.0" stroke-linejoin="round"/>
<polyline points="233.2,486.8 234.5,486.6 235.9,486.9 237.4,486.8 238.8,486.4 240.2,486.4 241.6,486.4 243.2,486.7 244.4,486.4 246.0,486.8 247.3,486.8 248.6,487.1 250.1,487.0 251.4,486.4 253.0,486.5 254.4,486.4 255.7,486.7 257.1,486.7 258.5,486.3 260.0,486.6 261.4,486.7 262.9,486.3 264.2,486.3 265.8,486.5 267.2,486.0 268.7,486.2 269.9,486.3 271.3,486.4 272.9,485.9 274.3,485.6 275.8,485.4 277.2,486.0 278.5,486.0 280.0,485.6 281.5,485.6 282.8,485.3 284.4,485.3 285.8,484.8 287.2,484.2 288.7,484.5 290.0,484.2 291.4,484.2 292.9,483.6 294.3,483.1 295.6,483.0 297.2,482.6 298.5,482.4 300.0,482.5 301.6,482.2 303.0,481.7 304.6,481.9 306.0,481.6 307.7,481.8 309.2,481.2 311.0,481.2 312.5,481.2 314.2,481.8 316.1,481.5 318.0,482.0 319.4,481.9 320.7,482.3 322.2,481.9 323.6,482.3 325.0,482.5 326.6,482.9 328.2,482.5 329.6,482.6 331.3,482.8 332.9,482.8 334.4,482.4 336.0,482.2 337.5,482.5 338.8,481.9 340.3,481.8 341.6,481.6 343.1,481.1 344.6,480.9 346.0,481.0 347.6,480.5 348.9,480.8 350.5,480.3 351.9,480.2 353.6,480.4 355.0,480.0 356.4,480.1 357.8,479.9 359.2,480.2 360.6,480.7 362.3,480.2 363.5,480.7 365.0,480.8 366.3,480.9 368.0,481.1 369.3,481.4 370.7,481.1 372.2,481.1 373.6,481.5 375.0,481.6 376.4,481.4 378.0,481.7 379.4,481.6 380.8,481.5 382.1,481.0 383.5,481.0 385.0,481.0 386.4,480.7 387.9,481.0 389.3,481.7 390.8,481.8 392.1,481.9 393.5,481.5 395.0,481.8 396.4,481.4 398.0,481.6 399.3,481.6 400.8,481.2 402.2,480.6 403.6,481.1 405.0,480.6 406.4,480.9 407.9,480.6 409.4,480.9 410.7,481.5 412.3,481.2 413.5,481.6 415.0,481.6 416.3,481.4 417.9,482.0 419.4,481.5 420.8,482.2 422.2,481.8 423.5,481.6 425.0,482.0 426.5,482.5 428.0,482.2 429.4,482.2 430.6,482.6 432.1,482.2 433.6,482.3 435.0,482.6 436.4,482.5 438.0,482.4 439.3,482.7 440.8,482.9 442.2,482.8 443.6,482.9 445.0,483.0 446.3,482.9 447.8,482.8 449.4,482.3 450.7,482.4 452.2,482.8 453.6,482.3 455.0,482.4 456.5,482.5 457.9,482.3 459.2,482.5 460.7,483.0 462.2,482.9 463.6,483.2 465.0,483.0 466.4,483.0 467.9,482.9 469.3,482.8 470.8,482.8 472.2,482.9 473.5,483.0 475.0,482.6 476.5,482.8 477.8,483.1 479.3,482.6 480.7,482.7 482.2,482.8 483.7,483.5 485.0,483.4 486.5,483.2 487.8,483.6 489.4,483.8 490.8,483.3 492.1,483.5 493.7,484.0 495.0,483.6 496.6,483.2 498.1,483.4 499.7,483.1 501.2,483.4 502.8,483.2 504.4,482.7 506.0,483.0" fill="none" stroke="#151515" stroke-width="0.95" stroke-linejoin="round"/>
<line x1="290" y1="486.3" x2="507" y2="486.3" stroke="#707070" stroke-width="0.8"/>
<polyline points="233.4,486.9 234.9,486.9 236.5,486.7 237.9,486.6 239.4,487.1 241.0,486.9 242.4,486.6 244.0,487.0 245.4,487.0 246.9,486.7 248.6,486.9 250.0,486.9 251.6,486.9 253.1,486.8 254.6,486.6 256.2,486.9 257.6,486.7 259.2,486.6 260.8,486.6 262.4,486.5 263.8,486.9 265.4,486.5 266.9,486.3 268.4,486.8 270.0,486.5 271.4,486.5 273.1,486.4 274.4,486.1 276.0,485.9 277.4,485.8 279.1,486.0 280.5,485.8 281.9,485.9 283.4,485.7 285.0,485.6 286.6,485.6 288.0,485.3 289.4,485.5 291.1,485.3 292.4,485.7 294.1,485.5 295.5,485.2 297.0,485.0 298.5,485.3 300.0,485.2" fill="none" stroke="#1a1a1a" stroke-width="1.0"/>
<text x="382.6" y="397.2" font-size="6.4" text-anchor="middle">g</text>
<text x="350" y="434.4" font-size="6.4" text-anchor="middle">f</text>
<text x="312.6" y="469" font-size="6" text-anchor="middle">e</text>
<text x="510.4" y="490.2" font-size="6.4" text-anchor="middle">b</text>
<text x="516" y="493.4" font-size="6.4" text-anchor="middle">a</text>
</g></svg></body></html>
